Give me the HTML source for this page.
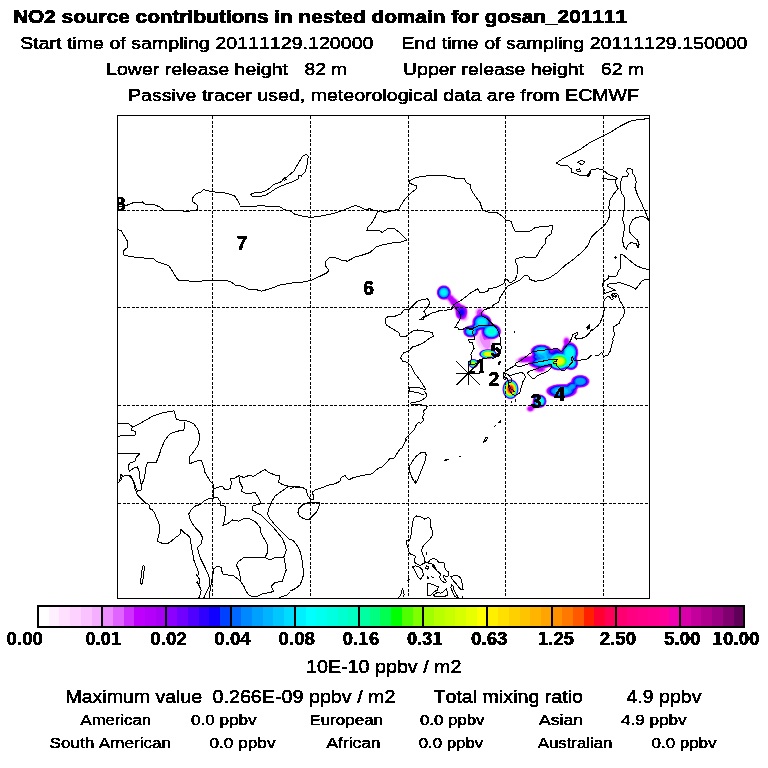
<!DOCTYPE html>
<html lang="en">
<head>
<meta charset="utf-8">
<title>NO2 source contributions in nested domain for gosan_201111</title>
<style>
html,body{margin:0;padding:0;background:#fff;}
body{width:768px;height:768px;overflow:hidden;}
svg{display:block;}
text{font-family:"Liberation Sans",Arial,Helvetica,sans-serif;font-kerning:none;font-variant-numeric:tabular-nums;fill:#000;stroke:#000;stroke-width:0.3px;stroke-linejoin:round;}
.b{stroke-width:0.6px;}
.b{font-weight:bold;}
.n{font-family:"Noto Sans CJK JP","Liberation Sans",sans-serif;}
</style>
</head>
<body>
<svg width="768" height="768" viewBox="0 0 768 768">
<defs>
<clipPath id="mapclip"><rect x="118" y="116" width="531" height="482"/></clipPath>
<clipPath id="c1"><rect x="470" y="350" width="20" height="19.9"/><rect x="479.5" y="369" width="4" height="5"/></clipPath>
<filter id="bl1" x="-50%" y="-50%" width="200%" height="200%"><feGaussianBlur stdDeviation="0.7"/></filter>
<filter id="thr" x="-2%" y="-20%" width="104%" height="140%" color-interpolation-filters="sRGB"><feComponentTransfer><feFuncA type="discrete" tableValues="0 0 1 1 1"/></feComponentTransfer></filter>
<filter id="bl2" x="-50%" y="-50%" width="200%" height="200%"><feGaussianBlur stdDeviation="2"/></filter>
</defs>
<rect width="768" height="768" fill="#fff"/>
<g clip-path="url(#mapclip)">
<g id="plume">
<g filter="url(#bl1)">
<path d="M442.0 284.9L445.5 284.9L448.7 286.5L450.6 289.0L451.8 293.5L454.0 294.9L455.6 297.0L458.0 299.0L459.9 301.5L462.0 303.4L465.3 305.0L467.0 306.7L468.3 310.0L468.3 314.5L468.9 317.5L468.4 319.5L467.0 321.1L465.5 321.7L463.5 321.8L459.5 320.4L457.0 319.0L455.1 316.0L454.3 311.0L452.0 307.5L449.5 305.0L448.0 302.5L446.0 300.4L442.5 300.2L440.4 299.5L437.6 297.0L436.2 293.5L436.6 290.0L438.5 286.9L440.0 285.7L442.0 284.9ZM478.0 306.9L481.0 306.7L483.6 308.0L485.1 310.0L485.7 313.5L489.3 316.0L491.1 318.0L492.0 320.0L492.5 323.0L496.0 324.1L498.5 325.5L500.4 327.5L501.5 329.9L501.6 332.5L500.5 335.4L499.1 337.0L495.6 339.5L494.8 340.5L495.2 346.0L494.1 349.5L494.2 350.0L496.8 352.5L497.2 353.5L497.1 355.0L495.3 357.0L492.0 358.4L489.0 358.9L485.5 358.7L482.5 358.0L480.0 356.5L478.9 355.0L478.8 353.5L480.6 350.5L476.5 344.4L474.5 338.0L469.5 337.9L466.5 337.0L464.0 335.1L462.8 333.0L462.8 330.0L464.4 327.5L467.0 325.8L471.0 324.9L471.5 324.5L472.0 319.5L474.8 315.0L474.4 312.5L474.8 310.5L476.0 308.4L478.0 306.9ZM565.5 335.8L567.5 335.8L569.3 337.0L570.5 338.9L571.1 341.0L576.0 344.4L577.5 346.6L578.5 349.2L578.8 354.0L577.6 358.5L578.6 362.0L578.5 364.5L577.2 367.5L574.5 369.8L571.0 370.6L566.5 369.5L562.0 370.8L558.0 371.0L553.7 370.0L549.0 367.6L547.6 368.0L547.2 370.5L545.0 372.4L541.5 373.3L538.0 373.3L535.2 372.5L533.5 371.5L532.6 370.0L532.5 368.0L528.7 366.0L527.0 363.9L518.7 363.5L516.0 362.5L515.0 361.5L514.8 360.5L515.5 359.0L518.4 357.0L523.5 355.3L530.6 354.5L529.8 351.0L530.5 348.5L533.2 346.0L536.9 344.5L540.5 344.0L544.5 344.2L548.5 345.5L552.0 348.1L557.0 347.7L561.0 348.9L562.6 345.0L562.0 341.5L562.4 339.0L563.7 337.0L565.5 335.8ZM472.0 358.9L474.0 358.8L476.0 359.5L477.2 360.5L478.1 362.0L478.4 364.0L477.9 365.5L476.7 367.0L475.0 368.0L473.0 368.2L471.0 367.7L469.4 366.5L468.5 365.0L468.2 363.0L469.0 361.0L470.5 359.5L472.0 358.9ZM579.5 374.5L584.0 374.9L587.5 376.6L589.0 378.0L589.9 379.5L590.1 382.5L588.7 385.0L586.5 386.7L583.5 387.8L578.5 388.5L578.1 389.5L578.2 391.5L577.7 393.0L576.3 394.5L574.5 395.7L571.5 397.0L567.3 398.0L562.5 398.4L558.0 398.3L553.5 397.5L550.4 396.5L547.5 395.0L545.5 392.9L544.9 391.0L545.3 389.5L546.3 388.0L548.5 386.4L551.7 385.0L556.0 384.0L560.5 383.6L566.5 383.7L570.1 381.5L571.2 378.5L573.2 376.5L576.4 375.0L579.5 374.5ZM510.0 378.9L513.2 379.5L516.0 381.5L518.1 385.0L518.8 389.0L518.2 393.0L516.5 396.3L514.0 398.5L510.5 399.5L507.5 398.8L504.7 396.5L503.0 393.5L502.2 389.5L502.8 385.5L504.5 382.1L507.0 379.9L510.0 378.9ZM537.0 394.5L539.5 394.0L541.5 394.3L543.5 395.1L545.1 396.5L546.4 398.5L546.9 400.5L546.8 402.5L546.1 404.5L544.5 406.5L542.5 407.8L540.5 408.3L537.5 408.4L536.0 409.0L534.0 411.4L532.5 412.3L530.0 412.7L527.5 412.0L526.3 411.0L525.5 409.5L525.5 408.1L526.0 407.0L527.0 405.9L530.0 404.2L532.0 401.9L532.6 399.0L533.6 397.0L535.2 395.5L537.0 394.5Z" fill="#FFE1FF" fill-rule="evenodd"/>
<path d="M442.5 285.0L446.0 285.2L449.0 287.0L450.6 289.5L451.5 293.6L453.5 295.0L455.5 297.4L458.0 299.5L459.4 301.5L461.6 303.5L465.0 305.2L466.8 307.0L468.0 310.0L467.9 314.5L468.3 317.5L467.8 319.5L466.5 320.8L465.0 321.3L463.5 321.2L459.2 320.0L457.4 319.0L455.4 316.0L454.7 311.0L452.0 307.0L449.9 305.0L448.5 302.5L446.0 300.1L443.0 300.1L440.5 299.3L438.6 298.0L437.5 296.6L436.4 293.0L436.9 289.5L439.2 286.5L442.5 285.0ZM478.0 307.5L481.0 307.2L483.5 308.5L484.7 310.5L485.3 313.5L489.0 316.0L491.0 318.3L491.9 320.5L492.2 323.0L496.0 324.3L498.2 325.5L500.0 327.2L501.2 329.5L501.4 332.5L500.2 335.5L498.2 337.5L493.5 340.5L493.9 346.0L492.9 349.5L496.3 352.0L497.1 354.0L496.7 355.5L495.8 356.5L492.0 358.4L489.0 358.8L485.5 358.7L482.5 357.9L480.2 356.5L479.1 355.0L479.0 353.2L479.6 352.0L481.8 350.0L479.1 346.5L477.5 343.4L476.4 340.5L475.8 337.5L470.5 337.8L467.5 337.2L464.6 335.5L463.0 333.0L463.0 330.0L464.6 327.5L467.0 325.9L471.0 325.1L471.7 324.5L472.2 319.5L475.2 315.0L474.9 312.5L475.3 310.5L476.5 308.5L478.0 307.5ZM565.0 336.5L567.0 336.2L569.0 337.2L570.0 338.6L571.0 341.5L574.0 343.0L575.5 344.2L577.2 346.5L578.2 349.0L578.7 353.5L577.4 358.5L578.4 362.0L578.3 364.5L577.0 367.5L574.5 369.6L571.0 370.5L566.5 369.4L562.0 370.7L558.0 370.8L554.0 369.9L549.0 367.5L547.0 368.0L546.7 370.5L545.0 372.0L541.9 373.0L538.1 373.0L536.0 372.5L534.2 371.5L533.1 370.0L533.1 368.0L529.2 366.0L527.1 363.5L519.5 363.3L517.1 362.5L515.8 361.5L515.5 360.5L516.0 359.3L519.2 357.0L524.2 355.5L531.0 354.7L531.1 354.0L530.1 351.5L530.5 349.0L532.8 346.5L536.5 344.8L540.5 344.1L544.5 344.4L549.0 346.0L552.0 348.4L557.0 347.9L561.0 349.2L562.9 345.0L562.4 342.0L562.6 339.5L563.5 337.8L565.0 336.5ZM472.5 358.9L474.5 359.0L476.0 359.6L477.5 360.9L478.2 362.5L478.2 364.5L477.5 366.0L476.0 367.4L474.5 368.0L472.5 368.1L470.8 367.5L469.1 366.0L468.4 364.5L468.4 362.5L469.1 361.0L470.5 359.6L472.5 358.9ZM577.5 374.9L582.0 374.7L586.5 376.2L588.3 377.5L589.4 379.0L590.0 380.5L590.0 382.0L588.8 384.5L586.4 386.5L583.5 387.6L578.5 388.3L577.9 389.5L577.5 392.6L576.5 394.0L574.4 395.5L570.9 397.0L567.0 397.9L563.0 398.3L558.5 398.2L554.2 397.5L550.9 396.5L548.0 395.0L545.9 393.0L545.3 391.5L545.6 389.5L546.7 388.0L548.8 386.5L552.3 385.0L557.0 384.0L566.5 383.9L570.4 381.5L571.2 379.0L572.8 377.0L575.0 375.7L577.5 374.9ZM508.5 379.4L512.0 379.2L515.0 380.7L517.5 383.9L518.6 387.5L518.5 391.5L517.0 395.4L514.5 398.1L511.5 399.3L508.5 399.0L505.5 397.2L503.5 394.5L502.4 391.0L502.4 387.5L503.5 383.9L505.7 381.0L508.5 379.4ZM537.5 394.5L539.5 394.2L541.5 394.4L543.5 395.3L545.0 396.5L546.3 398.5L546.8 400.5L546.7 402.5L546.0 404.5L544.5 406.3L542.5 407.6L540.5 408.2L537.0 408.2L535.5 408.9L533.9 411.0L532.5 412.0L530.0 412.4L528.0 412.0L526.0 410.0L525.8 408.5L526.1 407.5L527.4 406.0L530.2 404.5L532.2 402.0L532.8 399.0L533.8 397.0L535.5 395.4L537.5 394.5Z" fill="#FDD2FF" fill-rule="evenodd"/>
<path d="M441.5 285.4L445.0 285.2L447.0 285.8L448.5 286.8L450.5 289.6L451.5 294.2L453.5 295.5L455.0 297.5L457.0 299.0L459.0 301.6L461.5 303.8L465.0 305.6L466.5 307.0L467.5 309.1L467.8 311.5L467.6 318.0L466.5 320.0L465.0 320.6L463.5 320.6L459.5 319.8L457.5 318.6L456.5 317.5L455.5 315.5L454.8 310.5L452.5 307.0L450.4 305.0L448.6 302.0L446.5 299.9L441.5 299.6L439.5 298.5L438.0 297.0L436.6 293.5L437.0 290.0L438.9 287.0L441.5 285.4ZM478.5 307.9L481.0 307.8L483.0 308.9L484.1 310.5L484.7 313.5L488.7 316.0L490.6 318.0L491.5 320.0L492.0 323.2L495.5 324.2L498.0 325.6L499.9 327.5L501.1 330.0L501.1 333.0L499.6 336.0L497.0 338.1L492.4 340.0L492.2 340.5L492.4 346.0L492.1 347.5L491.2 349.0L495.5 351.4L496.5 352.5L497.0 354.0L496.5 355.5L495.7 356.5L492.0 358.3L488.5 358.8L484.5 358.4L481.5 357.3L479.5 355.5L479.0 354.0L479.4 352.5L481.0 350.9L483.5 349.5L479.8 344.5L478.0 340.5L477.4 336.5L477.0 336.1L472.5 337.5L468.5 337.4L466.5 336.6L464.9 335.5L463.7 334.0L463.1 332.5L463.2 330.0L464.9 327.5L467.3 326.0L471.0 325.3L471.9 324.5L472.5 319.5L475.7 315.0L475.5 312.5L475.9 310.5L477.0 308.9L478.5 307.9ZM479.5 331.0L479.3 331.5L479.5 332.0L480.3 331.0L479.5 331.0ZM565.5 336.8L567.0 336.7L568.7 337.5L569.7 339.0L570.6 341.5L573.6 343.0L575.5 344.5L577.0 346.5L578.0 349.0L578.5 353.5L577.2 358.5L578.2 362.0L578.1 364.5L576.8 367.5L574.3 369.5L572.5 370.1L570.5 370.3L566.5 369.2L562.0 370.5L558.0 370.6L554.0 369.8L550.0 367.5L549.0 367.3L546.3 368.0L546.0 370.5L544.1 372.0L541.0 372.8L538.0 372.6L535.9 372.0L534.4 371.0L533.8 370.0L533.8 368.0L529.6 366.0L527.5 363.1L520.2 363.0L517.5 362.1L516.5 361.0L516.4 360.0L517.0 359.0L520.2 357.0L524.5 355.8L531.2 355.0L531.6 354.5L530.3 351.5L530.8 349.0L533.2 346.5L537.0 344.8L540.5 344.3L544.5 344.6L548.6 346.0L552.0 348.7L555.0 348.1L557.0 348.1L561.0 349.6L563.3 345.0L562.7 341.5L563.1 339.5L564.0 337.8L565.5 336.8ZM472.5 359.0L474.5 359.1L476.0 359.7L477.4 361.0L478.1 362.5L478.1 364.5L477.5 365.9L476.5 367.0L474.5 367.9L472.5 368.0L470.9 367.5L469.5 366.4L468.5 364.5L468.5 362.5L469.2 361.0L470.5 359.7L472.5 359.0ZM578.0 375.0L582.7 375.0L586.7 376.5L589.2 379.0L589.7 380.5L589.7 382.0L588.6 384.5L586.0 386.5L583.0 387.5L578.5 388.0L577.6 389.5L577.5 391.5L576.9 393.0L574.0 395.5L570.5 396.9L567.0 397.7L562.5 398.1L558.0 397.9L553.5 397.1L550.2 396.0L547.7 394.5L546.0 392.5L545.7 391.0L546.0 389.5L547.1 388.0L549.2 386.5L553.0 385.0L557.0 384.2L561.0 383.9L566.5 384.1L570.7 381.5L571.4 379.0L573.2 377.0L575.5 375.7L578.0 375.0ZM508.5 379.5L512.0 379.4L515.0 380.9L517.4 384.0L518.5 387.5L518.4 391.5L517.0 395.2L514.5 397.9L511.5 399.1L508.5 398.9L505.5 397.1L503.5 394.2L502.5 391.0L502.5 387.5L503.6 384.0L505.5 381.3L508.5 379.5ZM538.5 394.4L540.5 394.4L542.5 394.9L544.2 396.0L545.5 397.5L546.7 401.0L546.4 403.0L545.5 405.0L544.0 406.6L542.0 407.7L540.0 408.1L537.0 408.0L535.5 408.5L533.4 411.0L532.0 411.8L530.0 412.1L527.9 411.5L526.3 409.5L526.5 407.5L527.5 406.4L530.3 405.0L532.3 402.5L532.9 399.0L534.5 396.5L536.5 395.0L538.5 394.4Z" fill="#FAC3FF" fill-rule="evenodd"/>
<path d="M442.0 285.5L445.5 285.5L448.5 287.1L450.4 290.0L451.1 294.5L453.0 295.7L454.9 298.0L457.0 299.6L458.8 302.0L461.5 304.4L465.0 306.0L466.4 307.5L467.4 310.0L467.5 312.5L466.8 318.0L465.6 319.5L464.0 319.9L461.5 319.8L459.5 319.4L457.9 318.5L456.5 317.0L455.8 315.5L455.3 310.5L452.6 306.5L450.6 304.5L449.0 301.7L447.0 299.7L443.5 299.7L441.5 299.4L439.5 298.3L438.0 296.7L436.8 293.5L437.2 290.0L439.0 287.2L442.0 285.5ZM479.5 308.4L481.0 308.5L482.5 309.4L483.6 311.0L484.0 313.5L488.0 315.8L489.9 317.5L491.2 320.0L491.8 323.5L495.5 324.4L497.6 325.5L499.7 327.5L500.9 330.0L500.7 333.5L498.8 336.5L496.0 338.4L490.5 340.0L490.1 340.5L490.4 346.0L489.5 347.7L487.8 348.5L488.3 349.0L490.5 349.2L494.5 350.8L496.4 352.5L496.8 354.0L496.4 355.5L495.5 356.5L493.9 357.5L491.5 358.3L487.5 358.7L484.0 358.2L481.2 357.0L479.4 355.0L479.3 353.0L481.0 351.1L483.5 349.7L487.0 349.0L486.9 348.5L484.5 347.5L483.5 346.4L481.0 342.5L479.8 339.5L479.5 336.5L480.8 333.5L481.0 330.5L480.0 330.4L478.8 331.0L478.4 333.5L476.5 335.7L474.5 336.8L472.0 337.4L469.0 337.3L466.5 336.4L464.5 334.9L463.3 332.5L463.4 330.0L465.1 327.5L467.8 326.0L471.5 325.3L472.2 324.5L472.7 319.5L473.9 317.5L476.3 315.0L476.1 312.5L476.5 310.8L478.0 309.0L479.5 308.4ZM565.5 337.4L567.0 337.3L568.0 337.7L569.2 339.0L570.5 342.0L573.0 343.0L575.1 344.5L577.0 347.0L578.0 349.5L578.2 354.0L576.9 358.5L578.0 361.7L578.0 364.5L576.5 367.5L574.0 369.5L570.5 370.1L566.5 369.0L562.0 370.3L558.0 370.5L554.0 369.6L550.0 367.2L549.0 367.1L545.5 368.0L545.5 370.0L544.0 371.5L541.5 372.3L538.5 372.3L535.3 371.0L534.5 370.0L534.5 368.0L529.5 365.5L528.0 362.7L521.0 362.7L518.7 362.0L517.5 361.0L517.4 360.0L517.9 359.0L521.0 357.1L525.0 356.1L530.5 355.7L531.5 355.2L532.0 354.5L530.9 352.5L530.6 351.0L531.1 349.0L533.5 346.5L537.1 345.0L541.0 344.5L545.0 344.9L549.0 346.5L552.0 349.0L554.5 348.4L557.0 348.3L559.0 348.8L561.0 349.9L561.5 349.7L563.6 345.0L563.2 341.5L563.5 339.7L564.5 338.1L565.5 337.4ZM471.5 359.3L473.5 359.0L475.0 359.3L476.5 360.1L477.6 361.5L478.1 363.0L477.9 365.0L476.9 366.5L475.5 367.5L473.5 368.0L472.0 367.8L470.3 367.0L469.0 365.5L468.5 364.0L468.7 362.0L469.7 360.5L471.5 359.3ZM579.5 375.0L584.0 375.5L587.1 377.0L589.1 379.5L589.5 381.0L589.4 382.5L588.0 384.8L585.6 386.5L582.5 387.5L578.5 387.7L577.3 389.5L577.1 391.5L576.5 393.0L573.5 395.5L570.0 396.8L566.5 397.6L562.0 397.9L558.0 397.8L553.7 397.0L550.8 396.0L548.2 394.5L546.4 392.5L546.0 391.0L546.4 389.5L547.6 388.0L549.7 386.5L553.5 385.1L557.0 384.4L561.5 384.1L566.5 384.3L571.0 381.5L571.7 379.0L573.5 377.0L576.5 375.5L579.5 375.0ZM509.0 379.5L512.0 379.5L515.0 381.0L517.3 384.0L518.4 387.5L518.3 391.5L517.0 395.0L514.5 397.7L511.5 399.0L508.5 398.8L505.6 397.0L503.5 394.0L502.6 390.5L502.7 387.0L504.0 383.5L506.1 381.0L509.0 379.5ZM539.5 394.5L543.0 395.4L544.5 396.5L545.7 398.0L546.5 401.5L546.1 403.5L545.3 405.0L543.8 406.5L542.0 407.5L540.0 407.9L536.5 407.8L535.0 408.3L533.3 410.5L531.8 411.5L529.5 411.7L527.9 411.0L526.8 409.5L526.8 408.0L528.0 406.5L530.5 405.4L532.3 403.0L532.9 399.5L533.8 397.5L536.0 395.5L539.5 394.5Z" fill="#EC8CFF" fill-rule="evenodd"/>
<path d="M443.0 285.5L446.0 285.8L448.5 287.4L450.4 290.5L451.0 295.2L452.5 296.1L454.1 298.0L456.5 299.9L458.1 302.0L461.0 304.5L464.5 306.1L466.0 307.5L467.0 309.7L467.2 312.5L466.3 316.5L465.0 318.5L463.5 319.2L461.5 319.3L459.5 319.0L458.0 318.1L456.9 317.0L456.0 315.0L455.5 310.0L453.0 306.1L451.0 304.1L449.5 301.4L447.5 299.3L444.0 299.5L442.0 299.3L440.0 298.4L438.1 296.5L436.9 293.0L437.6 289.5L439.5 287.0L441.1 286.0L443.0 285.5ZM479.5 309.4L481.0 309.6L482.0 310.2L482.8 311.5L483.1 313.5L483.7 314.0L487.1 315.5L489.6 317.5L491.0 320.0L491.3 323.5L496.5 325.1L498.5 326.5L499.8 328.0L500.7 330.5L500.6 333.0L499.4 335.5L497.2 337.5L493.0 339.1L485.5 339.5L485.5 340.1L484.5 340.1L483.3 338.5L482.2 335.5L481.6 333.0L481.6 330.5L481.0 330.0L479.5 330.3L478.4 331.0L477.9 333.5L476.5 335.3L473.0 337.1L470.5 337.3L468.0 336.9L465.5 335.5L464.1 334.0L463.4 331.5L464.1 329.0L465.4 327.5L467.0 326.5L471.0 325.6L472.0 325.0L472.6 324.0L472.5 321.5L473.2 319.0L477.2 314.5L477.1 312.5L477.5 310.9L478.3 310.0L479.5 309.4ZM566.0 338.0L567.5 338.2L568.5 339.0L569.7 342.0L573.0 343.3L575.0 344.7L576.5 346.6L577.7 349.5L578.0 354.0L576.7 358.5L577.9 362.0L577.8 364.5L576.5 367.2L574.0 369.3L570.5 369.9L566.5 368.7L562.0 370.1L558.0 370.3L554.4 369.5L550.0 367.0L549.0 366.9L544.6 368.0L544.5 370.0L543.0 371.3L541.0 371.8L538.5 371.8L535.8 370.5L535.4 369.5L535.5 368.0L530.0 365.5L529.2 364.5L529.0 362.5L528.5 362.0L521.5 362.2L519.4 361.5L518.5 360.5L519.1 359.0L521.5 357.5L525.1 356.5L530.5 356.2L531.5 355.6L532.3 354.5L530.9 351.5L531.4 349.0L534.0 346.5L537.5 345.1L541.0 344.7L544.6 345.0L548.6 346.5L551.5 349.3L555.0 348.5L557.0 348.5L558.9 349.0L561.0 350.4L561.5 350.3L564.2 344.5L563.8 341.5L564.0 340.0L565.0 338.5L566.0 338.0ZM485.5 349.5L489.5 349.3L493.5 350.4L496.2 352.5L496.6 353.5L496.5 355.0L494.5 357.1L490.5 358.4L486.0 358.5L482.3 357.5L479.8 355.5L479.4 354.5L479.5 353.0L481.5 350.9L485.5 349.5ZM471.5 359.4L473.5 359.1L475.0 359.4L476.5 360.2L477.5 361.5L478.0 363.0L477.8 365.0L476.8 366.5L475.5 367.4L473.5 367.9L471.5 367.6L470.0 366.7L469.0 365.4L468.5 363.5L468.8 362.0L469.8 360.5L471.5 359.4ZM577.5 375.5L582.0 375.3L585.9 376.5L588.6 379.0L589.2 380.5L589.2 382.0L588.0 384.4L586.0 386.0L583.0 387.1L578.5 387.5L578.0 387.8L576.8 390.0L576.7 391.5L576.1 393.0L573.5 395.2L570.4 396.5L566.5 397.4L562.5 397.7L558.0 397.6L554.0 396.8L550.5 395.6L548.0 394.0L546.8 392.5L546.5 391.0L546.8 389.5L548.0 388.0L549.5 386.9L552.8 385.5L557.0 384.6L567.0 384.3L568.6 383.0L571.0 381.9L572.0 379.0L573.3 377.5L575.0 376.4L577.5 375.5ZM510.0 379.5L513.0 380.0L515.8 382.0L517.6 385.0L518.4 389.0L517.9 392.5L516.1 396.0L513.5 398.2L510.5 398.9L507.5 398.2L505.0 396.2L503.3 393.0L502.6 389.5L503.1 386.0L504.8 382.5L507.0 380.5L510.0 379.5ZM537.5 395.0L539.5 394.6L541.5 394.9L543.5 395.9L544.8 397.0L545.7 398.5L546.3 400.5L546.2 402.5L545.5 404.4L544.0 406.2L542.0 407.3L540.0 407.7L535.5 407.6L534.0 408.3L533.0 410.0L531.7 411.0L530.0 411.2L528.5 410.8L527.4 409.5L527.5 407.9L528.5 406.8L531.3 405.5L532.7 403.0L533.0 400.0L533.7 398.0L535.5 396.0L537.5 395.0Z" fill="#D030FF" fill-rule="evenodd"/>
<path d="M442.0 285.9L445.5 285.9L448.3 287.5L449.5 289.0L450.3 291.0L450.5 296.0L452.0 296.8L453.5 298.6L456.0 300.3L457.6 302.5L460.7 305.0L464.3 306.5L465.8 308.0L466.8 310.5L466.7 313.5L465.7 316.5L464.0 318.2L462.5 318.8L460.5 318.8L458.5 318.0L457.4 317.0L456.3 314.5L456.0 309.8L453.5 305.7L451.5 303.6L450.2 301.0L448.5 299.0L447.5 298.6L444.5 299.3L442.0 299.1L440.0 298.1L438.4 296.5L437.2 293.5L437.5 290.3L439.3 287.5L442.0 285.9ZM480.0 312.3L481.1 313.5L486.5 315.5L489.0 317.3L490.7 320.0L491.0 323.6L496.5 325.3L499.5 328.0L500.4 330.0L500.5 332.5L499.5 335.0L497.5 337.0L495.0 338.4L492.5 339.0L489.0 338.9L486.5 338.3L484.5 337.1L482.7 335.0L482.0 333.0L481.8 330.0L481.0 329.7L478.5 330.5L476.9 334.5L475.2 336.0L473.0 336.9L470.5 337.1L468.0 336.7L466.0 335.7L464.5 334.2L463.6 331.5L464.5 328.8L465.8 327.5L467.5 326.5L472.0 325.4L472.9 324.0L472.9 321.0L473.8 318.5L475.5 316.6L478.9 314.0L480.0 312.3ZM565.5 339.4L566.5 339.0L567.5 339.4L568.7 342.0L572.5 343.3L574.5 344.6L576.5 347.0L577.5 349.5L577.8 354.0L576.5 358.5L577.6 361.5L577.7 364.0L576.4 367.0L574.0 369.0L570.5 369.7L566.5 368.5L562.0 370.0L558.0 370.1L554.0 369.2L549.5 366.7L543.2 368.0L542.8 368.5L543.2 369.5L542.5 370.5L541.0 371.1L539.0 371.1L537.0 370.0L537.2 368.5L536.9 368.0L532.3 366.5L530.1 365.0L529.5 364.0L529.9 361.5L529.5 361.1L523.5 361.7L521.5 361.4L520.1 360.5L520.0 360.0L520.5 359.0L523.0 357.6L526.0 357.0L530.0 356.9L531.0 356.5L532.7 354.5L531.3 351.5L531.8 349.0L534.5 346.5L538.0 345.2L541.5 344.9L545.0 345.3L548.9 347.0L551.5 349.8L554.5 348.8L557.0 348.8L559.3 349.5L561.5 351.1L562.9 347.5L564.9 344.0L564.6 341.0L565.5 339.4ZM486.5 349.5L491.0 349.7L494.4 351.0L496.3 353.0L496.5 354.4L496.1 355.5L493.4 357.5L489.0 358.5L484.0 358.0L480.9 356.5L479.5 354.5L479.7 353.0L480.3 352.0L483.0 350.3L486.5 349.5ZM472.0 359.4L474.0 359.2L475.5 359.7L476.7 360.5L477.7 362.0L478.0 363.5L477.5 365.4L476.5 366.6L475.0 367.5L473.0 367.8L471.5 367.5L469.9 366.5L468.9 365.0L468.7 363.0L469.2 361.5L470.5 360.0L472.0 359.4ZM578.5 375.5L582.5 375.6L586.3 377.0L588.5 379.5L588.9 381.0L588.8 382.5L587.5 384.6L585.0 386.3L582.5 387.0L578.0 387.4L576.4 390.0L575.6 393.0L573.2 395.0L570.5 396.2L567.0 397.1L563.0 397.5L558.5 397.4L554.5 396.7L551.0 395.5L548.5 394.0L547.3 392.5L546.9 391.0L547.3 389.5L548.5 388.0L550.0 387.0L553.5 385.5L557.0 384.8L567.0 384.6L569.0 383.0L571.3 382.0L572.1 379.5L573.7 377.5L576.0 376.2L578.5 375.5ZM508.5 379.9L511.5 379.7L514.5 381.0L517.0 384.0L518.1 387.5L518.0 391.5L516.7 395.0L514.5 397.4L511.5 398.7L508.5 398.5L506.0 397.0L504.0 394.4L502.9 391.0L502.9 387.5L504.0 384.0L506.0 381.4L508.5 379.9ZM538.0 395.0L540.0 394.8L542.0 395.3L543.5 396.1L545.0 397.5L545.8 399.0L546.2 401.0L546.0 402.6L545.2 404.5L543.9 406.0L542.0 407.1L539.5 407.6L536.0 407.0L534.0 407.2L533.0 407.7L532.3 409.5L531.5 410.2L530.0 410.5L529.0 410.2L528.2 409.0L528.4 408.0L529.0 407.4L532.0 406.3L533.0 403.8L533.1 400.5L533.9 398.0L535.8 396.0L538.0 395.0Z" fill="#C000FF" fill-rule="evenodd"/>
<path d="M443.0 285.9L445.5 286.1L447.5 287.1L449.3 289.0L450.2 291.5L450.0 294.5L449.1 297.0L447.5 298.1L444.5 299.1L442.0 298.8L440.0 297.8L438.3 296.0L437.4 293.5L437.5 291.0L438.7 288.5L440.5 286.8L443.0 285.9ZM452.5 299.9L455.0 300.9L456.8 303.0L460.2 305.5L464.0 306.9L465.6 308.5L466.4 311.0L466.3 313.5L465.3 316.0L463.5 317.8L462.0 318.3L460.0 318.2L458.5 317.4L457.5 316.3L456.6 314.0L456.6 309.5L454.2 305.0L452.2 302.5L451.9 300.5L452.5 299.9ZM480.5 314.4L484.0 314.8L487.7 316.5L489.3 318.0L490.2 319.5L490.8 324.0L495.5 325.1L497.5 326.2L499.0 327.7L500.1 330.0L500.2 332.5L499.2 335.0L497.5 336.8L495.0 338.1L492.0 338.8L489.0 338.6L486.5 337.8L484.5 336.5L483.2 335.0L482.3 332.5L482.3 330.0L481.5 329.4L480.0 329.6L478.1 330.5L477.5 333.0L476.6 334.5L473.5 336.5L471.0 336.9L468.5 336.6L466.5 335.7L465.0 334.5L464.2 333.0L463.9 331.5L464.2 330.0L465.0 328.5L467.5 326.7L472.0 325.7L473.2 324.0L473.3 320.5L474.5 318.0L477.0 315.8L480.5 314.4ZM567.0 342.8L571.0 343.1L573.5 344.1L575.9 346.5L577.3 349.5L577.6 354.0L576.2 358.5L577.4 361.5L577.5 364.0L576.5 366.5L574.5 368.5L573.0 369.2L571.0 369.5L566.5 368.3L562.0 369.8L558.0 369.9L554.0 369.0L550.0 366.5L541.5 367.9L538.5 367.8L533.0 366.5L531.2 365.5L530.2 364.5L530.2 362.5L532.1 360.0L530.6 358.5L530.7 358.0L533.1 354.5L531.7 352.0L531.7 350.0L532.5 348.5L534.5 346.8L539.0 345.3L544.5 345.4L548.5 347.0L551.5 350.4L554.5 349.1L557.0 349.0L559.5 350.0L561.5 352.0L563.5 346.8L565.5 344.1L567.0 342.8ZM484.5 349.9L489.0 349.5L493.0 350.4L495.0 351.5L495.9 352.5L496.3 353.5L496.2 355.0L494.2 357.0L491.0 358.2L487.0 358.4L482.8 357.5L480.1 355.5L479.7 353.5L481.0 351.5L484.5 349.9ZM526.0 358.0L528.5 358.1L529.4 358.5L529.5 359.0L528.4 360.0L526.5 360.6L524.0 360.6L522.6 360.0L523.0 359.0L526.0 358.0ZM472.0 359.4L474.0 359.3L475.5 359.8L476.5 360.5L477.6 362.0L477.9 363.5L477.5 365.2L476.5 366.5L475.0 367.4L473.0 367.7L471.5 367.4L470.0 366.4L469.0 365.0L468.8 363.0L469.3 361.5L470.5 360.2L472.0 359.4ZM577.5 375.9L582.0 375.7L585.8 377.0L587.1 378.0L588.2 379.5L588.5 382.3L587.2 384.5L585.0 386.0L582.0 386.9L578.0 387.1L576.0 390.0L575.1 393.0L572.6 395.0L570.0 396.1L566.3 397.0L558.5 397.2L554.5 396.5L551.6 395.5L549.1 394.0L547.8 392.5L547.4 391.0L547.8 389.5L549.0 388.1L550.6 387.0L554.0 385.6L557.5 384.9L567.0 384.8L569.0 383.2L571.8 382.0L572.4 379.5L574.0 377.6L577.5 375.9ZM509.0 379.9L512.0 379.9L514.9 381.5L517.0 384.2L518.0 387.5L517.9 391.5L516.5 395.0L514.2 397.5L511.5 398.6L508.5 398.3L506.0 396.8L504.0 394.2L503.0 391.0L503.0 387.5L504.1 384.0L506.1 381.5L509.0 379.9ZM539.5 395.0L542.0 395.4L544.0 396.7L545.5 398.8L546.0 401.0L545.5 403.5L544.2 405.5L542.0 407.0L539.5 407.4L537.1 407.0L534.5 405.9L533.6 404.5L533.2 401.5L533.6 399.0L534.9 397.0L537.0 395.5L539.5 395.0Z" fill="#B400FA" fill-rule="evenodd"/>
<path d="M442.0 286.4L444.5 286.2L446.5 286.8L448.5 288.4L449.7 290.5L450.0 293.0L449.4 295.5L448.0 297.4L445.9 298.5L443.5 298.8L441.0 298.2L439.0 296.5L437.9 294.5L437.6 292.0L438.3 289.5L440.0 287.5L442.0 286.4ZM457.0 305.4L459.9 306.5L463.5 307.2L464.6 308.0L465.5 309.3L466.0 311.5L465.7 314.0L464.7 316.0L463.0 317.4L461.5 317.8L459.8 317.5L458.5 316.7L457.5 315.3L457.0 313.0L457.4 309.0L456.5 306.0L457.0 305.4ZM480.0 315.0L483.5 315.0L487.2 316.5L488.9 318.0L489.8 319.5L490.3 321.0L490.5 324.2L495.5 325.3L498.5 327.5L499.7 329.5L500.0 332.0L499.2 334.5L497.5 336.5L495.0 337.9L492.5 338.5L489.5 338.4L487.0 337.7L485.0 336.5L483.5 334.9L482.6 332.5L482.6 329.5L481.5 329.1L480.0 329.3L477.7 330.5L476.7 334.0L475.1 335.5L473.5 336.3L471.5 336.7L469.0 336.5L467.0 335.8L465.4 334.5L464.2 332.0L464.3 330.5L465.0 328.9L467.5 327.0L472.0 326.0L473.5 324.0L473.5 321.0L474.5 318.5L477.0 316.2L480.0 315.0ZM567.5 343.5L570.5 343.3L573.5 344.5L575.6 346.5L577.0 349.5L577.3 354.0L575.9 358.5L577.1 361.5L577.2 364.0L576.3 366.5L574.1 368.5L572.5 369.1L570.5 369.3L566.5 368.1L562.4 369.5L558.0 369.7L554.0 368.7L550.0 366.3L543.0 367.3L538.5 367.4L533.5 366.3L531.8 365.5L530.8 364.5L530.5 363.5L530.7 362.5L533.0 360.0L531.9 358.5L531.7 357.5L533.5 354.5L532.3 352.5L532.0 350.5L532.9 348.5L534.6 347.0L539.0 345.5L544.0 345.5L546.5 346.3L548.7 347.5L550.0 349.0L551.0 351.1L551.5 351.2L554.3 349.5L557.0 349.4L559.0 350.1L561.5 352.5L562.0 352.2L562.8 349.0L564.0 346.5L566.0 344.3L567.5 343.5ZM485.0 349.9L489.5 349.7L493.5 350.7L495.7 352.5L496.2 353.5L496.0 355.0L494.0 357.0L490.5 358.2L486.5 358.3L482.5 357.2L480.3 355.5L479.8 354.5L480.0 353.0L482.0 351.0L485.0 349.9ZM472.5 359.4L474.0 359.4L475.7 360.0L476.9 361.0L477.6 362.5L477.7 364.0L477.2 365.5L476.0 366.8L474.5 367.5L472.5 367.6L471.0 367.0L469.7 366.0L469.0 364.5L468.9 363.0L469.5 361.3L470.9 360.0L472.5 359.4ZM578.5 376.0L582.5 376.0L586.0 377.5L588.0 379.9L588.1 382.5L586.8 384.5L584.4 386.0L582.0 386.6L578.5 386.7L577.6 387.0L575.6 390.0L574.5 393.0L572.0 395.0L569.5 396.0L565.5 396.9L558.5 397.0L552.3 395.5L549.7 394.0L548.3 392.5L547.9 391.0L548.3 389.5L549.7 388.0L551.3 387.0L554.5 385.8L558.5 385.0L567.0 385.1L569.0 383.5L572.0 382.3L572.8 379.5L574.5 377.6L576.5 376.5L578.5 376.0ZM509.5 380.0L512.5 380.2L515.3 382.0L517.2 385.0L518.0 388.4L517.5 392.5L516.0 395.5L513.9 397.5L511.0 398.5L508.0 398.0L505.5 396.2L503.8 393.5L503.0 390.0L503.3 386.5L504.5 383.5L506.9 381.0L509.5 380.0ZM538.0 395.4L540.5 395.2L542.7 396.0L544.5 397.5L545.5 399.5L545.7 402.0L545.1 404.0L543.5 405.9L541.5 406.9L539.0 407.2L536.4 406.5L534.9 405.5L533.7 403.5L533.4 401.0L534.1 398.5L535.7 396.5L538.0 395.4Z" fill="#8C00FF" fill-rule="evenodd"/>
<path d="M443.5 286.5L446.0 286.9L447.7 288.0L449.0 289.7L449.6 292.0L449.3 294.5L448.3 296.5L446.2 298.0L444.0 298.5L442.0 298.2L439.9 297.0L438.5 295.1L438.0 293.0L438.3 290.5L439.4 288.5L441.4 287.0L443.5 286.5ZM460.5 307.9L462.5 307.9L463.8 308.5L464.9 310.0L465.2 311.5L465.0 313.5L464.3 315.0L463.0 316.3L461.5 316.8L460.0 316.6L459.0 315.9L457.8 313.5L457.9 311.5L458.5 309.6L459.2 308.5L460.5 307.9ZM480.0 315.4L483.5 315.4L487.0 316.8L488.5 318.2L489.6 320.0L489.9 322.0L489.7 324.5L495.0 325.5L498.0 327.5L499.3 329.5L499.6 332.0L499.0 334.1L497.5 336.0L495.1 337.5L492.5 338.2L489.5 338.1L487.0 337.3L485.0 336.0L483.8 334.5L482.9 332.0L483.1 329.0L482.0 328.7L480.5 328.8L477.5 330.1L476.2 334.0L475.0 335.2L473.3 336.0L471.0 336.4L469.0 336.2L467.0 335.4L465.5 334.1L464.5 331.5L465.4 329.0L468.0 327.1L472.5 326.1L474.0 324.0L474.0 321.0L475.0 318.6L477.3 316.5L480.0 315.4ZM568.0 343.9L571.0 343.9L573.5 345.0L575.5 347.1L576.7 350.0L577.0 354.0L575.5 358.5L576.8 361.5L576.9 364.0L575.9 366.5L574.0 368.2L572.5 368.8L570.5 369.0L566.5 367.7L562.5 369.2L558.0 369.5L554.0 368.5L550.0 365.9L543.5 367.0L539.0 367.1L534.0 366.1L531.6 364.5L531.3 363.5L531.5 362.5L533.9 360.0L534.0 359.5L532.9 358.5L532.5 357.5L534.2 354.5L532.9 352.5L532.5 350.5L533.5 348.5L535.4 347.0L539.5 345.8L544.5 346.0L547.0 346.9L548.6 348.0L549.7 349.5L550.4 352.0L551.0 352.4L552.0 352.1L553.5 350.5L556.0 349.8L558.5 350.5L560.3 352.5L562.0 352.9L562.4 352.5L563.0 349.4L564.2 347.0L566.0 345.0L568.0 343.9ZM485.5 349.9L490.0 349.9L493.5 350.9L495.1 352.0L495.8 353.0L495.8 355.0L493.7 357.0L490.5 358.0L486.0 358.1L482.5 357.1L480.9 356.0L480.2 355.0L480.2 353.0L482.3 351.0L485.5 349.9ZM473.0 359.5L474.5 359.7L476.2 360.5L477.3 362.0L477.6 363.5L477.3 365.0L476.5 366.2L475.0 367.2L473.5 367.5L472.0 367.3L470.4 366.5L469.3 365.0L469.0 363.5L469.3 362.0L470.0 360.9L471.2 360.0L473.0 359.5ZM578.0 376.5L582.0 376.3L585.3 377.5L586.5 378.5L587.5 380.0L587.5 382.5L586.1 384.5L584.0 385.7L581.5 386.3L577.5 386.4L574.9 390.0L574.0 392.6L571.8 394.5L569.5 395.6L566.0 396.4L559.0 396.6L555.2 396.0L552.5 395.1L550.6 394.0L549.1 392.5L548.8 391.5L548.9 390.0L550.0 388.5L551.4 387.5L554.5 386.2L558.0 385.5L567.2 385.5L569.7 383.5L572.7 382.5L573.1 380.0L574.0 378.6L575.5 377.4L578.0 376.5ZM508.5 380.4L511.5 380.2L514.5 381.5L516.6 384.0L517.7 387.5L517.7 391.0L516.5 394.5L514.3 397.0L511.5 398.2L508.5 398.0L506.1 396.5L504.2 394.0L503.3 391.0L503.3 387.5L504.2 384.5L506.0 382.0L508.5 380.4ZM539.0 395.5L541.0 395.6L543.0 396.5L544.5 398.0L545.5 400.5L545.2 403.0L544.1 405.0L542.0 406.5L540.0 407.0L537.5 406.6L535.5 405.5L534.3 404.0L533.7 402.0L533.9 399.5L535.0 397.6L537.0 396.0L539.0 395.5Z" fill="#5000FF" fill-rule="evenodd"/>
<path d="M443.0 286.9L445.0 287.0L447.0 287.9L448.4 289.5L449.2 291.5L449.1 294.0L448.1 296.0L446.5 297.4L444.5 298.1L442.5 298.0L440.5 297.0L439.2 295.5L438.4 293.5L438.5 291.0L439.5 289.0L441.0 287.7L443.0 286.9ZM461.0 309.4L463.0 309.8L463.6 310.5L464.0 312.0L463.4 314.0L462.5 314.9L461.5 315.3L460.0 314.8L459.0 313.0L459.5 310.7L461.0 309.4ZM480.0 315.9L483.5 315.9L486.5 317.0L488.1 318.5L489.2 320.5L489.4 322.0L489.0 325.0L494.0 325.5L496.2 326.5L498.0 328.0L499.0 330.0L499.2 332.0L498.6 334.0L497.0 336.0L494.5 337.3L492.0 337.9L489.5 337.7L487.0 336.9L485.1 335.5L484.0 334.0L483.3 331.5L483.8 328.5L483.0 328.3L480.5 328.3L476.8 330.0L476.0 333.6L474.6 335.0L473.0 335.7L471.0 336.1L469.0 335.8L467.0 335.0L465.9 334.0L465.0 331.5L465.9 329.0L468.0 327.5L472.8 326.5L474.5 324.0L474.5 321.0L475.3 319.0L477.4 317.0L480.0 315.9ZM568.0 344.5L571.0 344.4L573.5 345.5L575.5 347.9L576.5 350.5L576.5 354.3L575.0 358.5L576.5 361.5L576.6 364.0L575.5 366.4L573.6 368.0L570.5 368.6L566.5 367.3L562.2 369.0L558.0 369.2L554.0 368.1L550.0 365.6L543.5 366.6L538.5 366.6L534.0 365.5L532.2 364.0L532.1 363.0L532.6 362.0L535.3 359.5L534.0 358.5L533.4 357.5L533.6 356.5L534.9 354.5L533.5 352.5L533.1 351.0L533.8 349.0L535.5 347.5L539.5 346.1L544.0 346.3L546.5 347.1L548.4 348.5L549.3 350.0L549.8 352.5L551.0 353.3L552.9 353.5L553.9 351.5L556.0 350.7L557.5 351.0L559.5 352.7L562.0 353.3L562.7 353.0L563.4 349.5L564.5 347.2L566.0 345.6L568.0 344.5ZM486.0 350.0L490.0 350.0L493.4 351.0L495.6 353.0L495.6 355.0L493.4 357.0L490.0 358.0L486.0 358.0L482.6 357.0L480.4 355.0L480.4 353.0L482.6 351.0L486.0 350.0ZM471.5 360.0L473.0 359.6L474.5 359.8L476.0 360.5L477.0 361.7L477.5 363.0L477.4 364.5L476.5 366.0L475.5 366.8L474.0 367.3L472.5 367.3L471.0 366.7L469.7 365.5L469.1 364.0L469.2 362.5L470.1 361.0L471.5 360.0ZM578.0 376.9L581.5 376.7L585.0 377.9L586.8 380.0L586.9 382.5L585.5 384.3L583.2 385.5L580.5 386.0L577.0 385.8L576.0 388.1L574.0 390.0L573.1 392.5L570.7 394.5L565.5 396.1L559.0 396.2L553.5 394.9L551.0 393.5L550.0 392.3L549.6 391.0L550.1 389.5L551.7 388.0L553.6 387.0L557.0 386.1L560.0 385.7L567.0 386.1L570.0 383.8L573.2 383.0L573.6 382.5L573.6 380.5L574.4 379.0L576.0 377.7L578.0 376.9ZM509.0 380.5L512.0 380.5L514.5 381.8L516.5 384.3L517.6 387.5L517.6 391.0L516.3 394.5L514.0 397.0L511.5 398.0L509.0 397.9L506.4 396.5L504.5 394.1L503.4 391.0L503.4 387.5L504.5 384.3L506.5 381.8L509.0 380.5ZM538.0 395.9L540.5 395.8L542.5 396.5L544.0 397.8L545.0 399.7L545.2 402.0L544.5 403.9L543.0 405.6L541.0 406.5L539.0 406.6L536.8 406.0L535.0 404.5L534.3 403.0L534.0 401.0L534.5 398.9L536.0 397.0L538.0 395.9Z" fill="#1000FF" fill-rule="evenodd"/>
<path d="M443.0 287.4L445.0 287.5L446.5 288.1L448.0 289.7L448.7 291.5L448.7 293.5L447.9 295.5L446.5 296.9L444.5 297.6L442.5 297.5L441.0 296.8L439.5 295.2L438.9 293.5L438.9 291.5L439.7 289.5L441.3 288.0L443.0 287.4ZM480.0 316.4L484.0 316.5L486.0 317.3L487.5 318.6L488.4 320.0L488.8 321.5L488.0 325.6L493.5 325.8L495.5 326.5L497.4 328.0L498.6 330.0L498.8 332.0L498.1 334.0L496.9 335.5L494.5 336.9L492.0 337.5L489.0 337.2L486.5 336.1L484.8 334.5L483.9 332.5L483.9 330.5L484.8 328.0L484.5 327.6L480.5 327.8L476.4 329.5L476.0 330.0L476.1 332.0L475.5 333.5L473.0 335.3L469.5 335.6L467.9 335.0L466.5 334.0L465.5 332.0L466.1 329.5L468.5 327.7L473.2 327.0L475.1 324.5L475.0 321.5L475.6 319.5L477.5 317.5L480.0 316.4ZM568.5 344.9L571.0 344.9L573.3 346.0L575.0 347.9L576.0 350.5L576.0 354.5L574.5 358.5L576.0 361.5L576.2 364.0L575.3 366.0L573.5 367.6L570.5 368.2L567.0 366.9L562.5 368.6L558.5 369.0L554.4 368.0L550.0 365.1L544.0 366.2L539.5 366.3L535.4 365.5L533.3 364.0L533.1 363.0L533.6 362.0L537.4 359.0L534.8 357.5L534.9 356.5L535.9 355.0L534.2 352.5L533.8 351.0L534.6 349.0L536.5 347.5L541.0 346.4L543.5 346.6L546.0 347.4L548.4 349.5L549.2 353.0L552.5 354.8L557.0 353.1L563.0 353.6L563.7 350.0L564.6 348.0L566.3 346.0L568.5 344.9ZM487.5 350.0L491.0 350.3L494.0 351.6L495.5 353.5L495.0 355.5L492.5 357.2L488.5 358.0L484.3 357.5L481.5 356.0L480.5 354.0L481.5 352.0L484.0 350.6L487.5 350.0ZM472.0 360.0L473.5 359.8L475.0 360.1L477.0 362.0L477.3 363.5L477.0 365.0L475.0 366.9L473.5 367.2L471.9 367.0L470.5 366.2L469.6 365.0L469.3 363.5L469.6 362.0L470.5 360.8L472.0 360.0ZM578.5 377.4L582.0 377.4L584.7 378.5L586.2 380.5L586.0 382.5L584.8 384.0L582.5 385.1L580.0 385.4L576.0 384.8L575.5 387.7L572.8 390.0L571.9 392.5L570.1 394.0L565.5 395.5L559.0 395.7L554.1 394.5L552.3 393.5L551.0 392.0L550.8 390.5L551.7 389.0L555.5 387.0L561.0 386.2L567.5 386.7L570.9 384.0L574.5 383.7L574.8 383.5L574.3 381.0L574.9 379.5L576.5 378.1L578.5 377.4ZM510.5 380.5L513.0 381.1L515.4 383.0L517.0 385.9L517.5 389.0L517.0 392.5L515.5 395.3L513.0 397.3L510.5 397.9L508.0 397.3L505.5 395.3L504.0 392.5L503.5 389.0L504.0 385.9L505.6 383.0L508.0 381.1L510.5 380.5ZM537.5 396.5L539.5 396.0L541.5 396.4L543.3 397.5L544.5 399.2L544.9 401.0L544.5 403.2L543.2 405.0L541.5 406.0L539.5 406.4L537.5 405.9L536.0 405.0L534.6 403.0L534.3 401.0L534.8 399.0L535.9 397.5L537.5 396.5Z" fill="#0068FF" fill-rule="evenodd"/>
<path d="M443.0 287.9L444.5 287.9L446.1 288.5L447.5 289.8L448.2 291.5L448.2 293.5L447.5 295.2L446.1 296.5L444.5 297.1L443.0 297.1L441.5 296.5L440.0 295.0L439.4 293.5L439.4 291.5L440.0 290.0L441.5 288.5L443.0 287.9ZM480.5 316.9L484.0 317.1L485.9 318.0L487.0 319.0L487.9 320.5L488.2 322.0L487.9 323.5L487.0 325.1L484.5 326.8L480.0 327.2L475.0 329.0L475.5 332.0L474.8 333.5L473.5 334.5L470.5 335.2L467.5 334.1L466.1 332.0L466.3 330.5L466.8 329.5L468.0 328.5L469.5 327.9L474.1 328.0L474.5 326.5L475.9 324.5L475.7 321.5L476.4 319.5L478.0 317.9L480.5 316.9ZM490.0 326.0L492.5 326.0L494.5 326.5L496.5 327.8L497.8 329.5L498.3 331.5L497.8 333.5L496.5 335.2L494.5 336.5L492.0 337.1L489.0 336.8L486.4 335.5L484.8 333.5L484.4 331.0L485.4 328.5L487.0 326.9L490.0 326.0ZM569.0 345.4L571.0 345.5L573.0 346.5L574.5 348.1L575.5 350.5L575.5 354.5L573.8 358.5L575.5 361.3L575.8 363.5L575.1 365.5L573.5 367.1L572.0 367.7L570.5 367.8L567.0 366.4L562.5 368.3L558.5 368.7L554.1 367.5L550.0 364.6L545.0 365.6L540.5 365.9L536.5 365.2L534.5 363.9L534.4 362.5L535.2 361.5L540.8 358.5L540.6 358.0L538.8 357.0L537.6 355.0L534.9 352.0L534.9 350.0L536.8 348.0L539.0 347.2L541.5 347.0L544.0 347.3L545.8 348.0L547.7 350.0L548.1 353.5L551.5 355.8L557.0 353.7L563.6 354.0L564.1 350.5L565.0 348.3L566.6 346.5L569.0 345.4ZM485.0 350.5L489.0 350.2L492.6 351.0L494.3 352.0L495.1 353.0L495.1 355.0L493.5 356.5L490.5 357.6L487.0 357.8L483.4 357.0L481.3 355.5L480.8 353.5L482.4 351.5L485.0 350.5ZM472.5 360.0L474.0 360.0L475.4 360.5L477.0 362.5L476.8 365.0L476.0 366.1L474.5 366.9L473.0 367.1L471.5 366.7L470.5 366.0L469.6 364.5L469.4 363.0L470.0 361.6L471.0 360.6L472.5 360.0ZM580.0 378.0L582.9 378.5L584.7 380.0L585.0 382.0L584.4 383.0L583.1 384.0L581.0 384.6L579.0 384.5L577.0 383.7L575.8 382.5L575.5 381.0L576.3 379.5L577.7 378.5L580.0 378.0ZM509.0 380.9L511.5 380.8L514.2 382.0L516.2 384.5L517.2 387.5L517.2 391.0L516.2 394.0L514.0 396.5L511.5 397.6L509.0 397.5L506.5 396.1L504.6 393.5L503.7 390.5L503.8 387.5L504.8 384.5L506.5 382.3L509.0 380.9ZM571.0 384.9L572.5 384.6L573.9 385.0L574.7 386.0L574.7 387.0L573.9 388.0L571.2 389.5L570.9 391.5L570.3 392.5L567.5 394.2L563.5 395.1L558.5 394.9L554.1 393.5L552.9 392.5L552.3 391.5L552.3 390.5L552.9 389.5L556.0 387.7L561.5 386.8L568.5 387.7L571.0 384.9ZM539.0 396.4L541.0 396.6L542.7 397.5L544.0 399.0L544.5 400.6L544.3 402.5L543.5 404.1L542.0 405.4L540.0 406.0L538.0 405.7L536.5 405.0L535.3 403.5L534.7 401.5L535.0 399.5L535.9 398.0L537.2 397.0L539.0 396.4Z" fill="#00A0FF" fill-rule="evenodd"/>
<path d="M442.0 289.0L443.5 288.5L445.0 288.7L446.4 289.5L447.2 290.5L447.7 292.0L447.5 293.7L446.8 295.0L445.5 296.1L444.0 296.5L442.5 296.3L440.4 294.5L439.9 293.0L440.0 291.5L440.8 290.0L442.0 289.0ZM482.0 317.5L484.5 318.0L486.4 319.5L487.3 321.5L487.0 323.5L485.5 325.4L483.5 326.3L481.5 326.5L478.0 326.1L477.4 325.5L476.6 323.0L476.8 320.5L478.5 318.5L480.0 317.8L482.0 317.5ZM490.0 326.5L492.5 326.5L494.3 327.0L496.0 328.0L497.2 329.5L497.6 331.0L497.4 333.0L496.5 334.5L494.5 335.9L492.0 336.6L489.5 336.4L487.0 335.3L485.4 333.5L485.0 331.0L485.7 329.0L487.5 327.4L490.0 326.5ZM470.0 328.5L472.5 328.7L474.3 330.0L474.7 332.0L474.2 333.0L473.1 334.0L471.5 334.5L469.5 334.4L468.0 333.7L467.1 332.5L466.9 331.0L467.4 330.0L468.5 329.0L470.0 328.5ZM568.0 346.4L570.5 346.1L572.5 346.9L574.0 348.5L575.0 350.9L574.9 354.5L572.9 358.5L575.0 361.5L575.2 363.5L574.5 365.4L573.0 366.8L570.5 367.2L567.0 365.8L562.6 368.0L558.5 368.4L554.0 367.1L550.0 363.8L545.2 365.0L541.5 365.3L538.0 364.8L535.9 363.5L536.0 362.4L537.5 361.0L544.0 358.5L545.0 357.5L543.6 356.0L538.5 354.1L536.3 352.5L535.8 350.5L536.4 349.5L537.6 348.5L539.5 347.8L542.0 347.7L544.0 348.1L545.7 349.0L546.8 350.5L546.1 354.5L547.0 356.5L547.0 357.5L547.9 358.5L549.5 359.0L552.0 356.5L556.0 354.4L559.5 354.0L564.3 354.5L565.1 349.5L566.4 347.5L568.0 346.4ZM485.5 350.5L489.0 350.3L492.5 351.1L494.8 353.0L495.0 354.0L494.8 355.0L493.2 356.5L490.0 357.6L486.5 357.6L483.5 356.9L481.5 355.5L481.0 354.5L481.0 353.5L482.5 351.7L485.5 350.5ZM471.5 360.5L473.0 360.1L474.5 360.3L476.5 361.8L477.0 364.0L476.5 365.2L475.5 366.3L473.0 366.9L471.5 366.5L470.3 365.5L469.7 364.5L469.6 363.0L470.3 361.5L471.5 360.5ZM510.0 380.9L512.5 381.3L515.0 383.1L516.5 385.5L517.2 389.0L516.6 392.5L515.3 395.0L513.0 396.9L510.5 397.5L508.0 396.9L506.0 395.3L504.5 392.9L503.8 389.5L504.2 386.5L505.5 383.7L507.5 381.8L510.0 380.9ZM561.0 388.0L564.0 388.2L566.7 389.0L568.0 390.0L568.3 391.5L566.5 393.1L562.4 394.0L557.8 393.5L555.2 392.0L554.9 390.5L555.7 389.5L557.8 388.5L561.0 388.0ZM538.5 396.9L540.5 396.9L542.0 397.5L543.2 398.5L544.0 400.3L544.0 402.0L543.4 403.5L542.0 404.9L540.5 405.5L538.7 405.5L537.0 404.8L535.8 403.5L535.2 402.0L535.2 400.5L535.7 399.0L537.0 397.6L538.5 396.9Z" fill="#00C8FF" fill-rule="evenodd"/>
<path d="M443.5 289.4L445.6 290.0L446.8 292.0L446.6 293.5L446.1 294.5L444.0 295.6L442.0 295.0L440.8 293.0L441.0 291.5L441.5 290.5L443.5 289.4ZM481.5 318.5L484.5 319.2L485.5 320.2L486.1 321.5L486.0 322.9L485.4 324.0L484.1 325.0L482.5 325.5L479.5 325.0L478.4 324.0L477.7 322.5L477.8 321.0L478.5 319.9L479.7 319.0L481.5 318.5ZM491.0 327.0L493.0 327.2L494.9 328.0L496.4 329.5L496.9 331.0L496.6 333.0L495.5 334.5L494.0 335.5L492.0 336.0L490.0 335.9L487.7 335.0L486.2 333.5L485.7 332.0L486.0 330.0L487.1 328.5L488.6 327.5L491.0 327.0ZM470.5 329.4L472.5 329.9L473.4 331.0L473.1 332.5L471.6 333.5L469.5 333.3L468.2 332.0L468.5 330.5L470.5 329.4ZM569.0 347.0L571.0 347.1L572.5 348.0L573.7 349.5L574.4 351.5L573.9 355.0L573.0 356.6L571.1 358.5L573.6 360.5L574.5 362.5L574.0 364.9L572.5 366.2L570.4 366.5L567.5 365.1L563.0 367.5L558.5 368.1L555.8 367.5L553.5 366.4L549.5 362.1L549.0 362.1L546.9 363.5L543.5 364.2L539.7 364.0L538.3 363.0L538.5 362.3L539.3 361.5L543.5 360.2L546.5 360.2L549.0 361.4L549.5 361.1L552.2 357.0L554.3 355.5L556.5 354.6L560.5 354.4L565.0 355.4L565.4 355.0L565.2 352.0L565.9 349.5L567.1 348.0L569.0 347.0ZM540.0 348.9L542.0 348.8L544.1 349.5L545.0 351.0L544.5 352.4L543.5 353.1L542.0 353.5L540.0 353.2L538.5 352.5L537.7 351.5L537.7 350.5L538.5 349.5L540.0 348.9ZM486.5 350.5L490.0 350.6L492.9 351.5L494.5 353.0L494.8 354.0L494.5 355.0L492.9 356.5L489.6 357.5L486.4 357.5L483.1 356.5L481.5 355.0L481.2 354.0L481.5 353.0L483.1 351.5L486.5 350.5ZM569.0 359.0L569.0 359.0L569.0 359.0L569.0 359.0L569.0 359.0ZM472.0 360.5L474.5 360.4L476.5 362.0L476.8 363.0L476.7 364.5L475.0 366.4L473.5 366.8L472.0 366.5L470.2 365.0L469.8 364.0L469.9 362.5L470.5 361.5L472.0 360.5ZM509.0 381.4L511.5 381.2L514.1 382.5L516.0 384.9L516.9 388.0L516.7 391.5L515.5 394.4L513.5 396.4L511.0 397.2L508.5 396.9L506.5 395.6L505.0 393.5L504.1 390.5L504.1 387.5L505.0 384.9L506.9 382.5L509.0 381.4ZM538.5 397.5L540.0 397.3L541.5 397.8L542.9 399.0L543.5 400.4L543.5 402.0L543.0 403.2L542.0 404.3L540.5 405.0L539.0 405.0L537.5 404.5L536.4 403.5L535.7 402.0L536.0 399.5L537.0 398.3L538.5 397.5Z" fill="#00F0FF" fill-rule="evenodd"/>
<path d="M490.0 327.9L493.1 328.0L494.5 328.7L495.5 329.8L496.0 331.0L495.8 332.5L494.2 334.5L492.0 335.2L490.0 335.1L488.4 334.5L487.0 333.0L486.6 331.5L487.0 330.0L488.4 328.5L490.0 327.9ZM568.5 348.4L570.0 348.2L571.5 348.7L572.5 349.6L573.3 351.5L573.0 354.5L572.0 356.0L570.5 356.8L568.0 356.3L567.0 355.3L566.4 354.0L566.2 352.5L566.5 350.7L567.5 349.1L568.5 348.4ZM485.0 351.0L488.5 350.6L491.5 351.1L493.8 352.5L494.4 353.5L494.4 354.5L493.3 356.0L491.0 357.0L487.5 357.4L484.5 356.9L482.2 355.5L481.5 354.0L482.5 352.2L485.0 351.0ZM557.0 354.9L561.5 354.8L565.5 356.4L566.7 357.5L568.5 360.8L571.0 360.5L572.9 361.5L573.4 363.0L573.0 364.3L572.3 365.0L571.0 365.4L569.7 365.0L568.0 363.8L564.4 366.5L560.5 367.7L557.0 367.5L554.4 366.5L552.5 365.1L551.3 363.5L550.7 362.0L550.7 360.5L551.6 358.5L552.8 357.0L555.0 355.6L557.0 354.9ZM472.5 360.5L475.0 360.8L476.5 362.5L476.6 364.0L476.2 365.0L474.5 366.4L472.0 366.3L470.8 365.5L470.1 364.5L470.0 363.0L470.4 362.0L471.3 361.0L472.5 360.5ZM509.5 381.5L512.0 381.6L514.4 383.0L516.1 385.5L516.8 388.5L516.5 391.5L515.5 394.0L513.5 396.1L511.0 397.0L508.5 396.6L506.5 395.3L505.0 393.0L504.2 390.0L504.4 387.0L505.5 384.4L507.2 382.5L509.5 381.5ZM539.5 398.0L541.0 398.3L542.0 399.0L542.9 401.0L542.6 402.5L542.0 403.4L541.0 404.1L539.5 404.4L537.3 403.5L536.5 402.4L536.3 401.0L537.2 399.0L539.5 398.0Z" fill="#00FFF0" fill-rule="evenodd"/>
<path d="M491.0 329.0L493.3 329.5L494.4 331.0L494.4 332.0L493.9 333.0L492.0 334.0L489.5 333.6L488.2 332.0L488.2 331.0L488.7 330.0L491.0 329.0ZM486.0 350.9L489.0 350.8L492.0 351.5L493.9 353.0L494.2 354.0L493.9 355.0L492.5 356.2L490.0 357.1L487.0 357.2L484.0 356.5L482.1 355.0L481.9 353.5L483.1 352.0L486.0 350.9ZM556.5 355.4L559.0 355.0L561.5 355.2L564.0 356.1L565.9 357.5L567.2 359.5L567.6 361.5L567.3 363.0L565.8 365.0L563.0 366.7L559.5 367.4L556.0 366.8L553.0 365.0L551.3 362.0L551.6 359.5L553.5 357.0L556.5 355.4ZM472.0 360.9L474.0 360.7L476.0 362.0L476.4 364.0L476.0 365.0L475.0 365.9L472.5 366.3L470.6 365.0L470.2 364.0L470.4 362.5L472.0 360.9ZM509.0 381.8L511.5 381.7L514.0 383.0L515.6 385.0L516.6 388.0L516.5 391.0L515.2 394.0L513.5 395.8L511.0 396.8L508.5 396.4L506.5 395.0L505.2 393.0L504.5 390.5L504.5 387.5L505.4 385.0L507.0 383.0L509.0 381.8ZM538.5 399.3L540.0 399.1L541.5 400.0L541.8 401.5L540.9 403.0L539.5 403.4L537.8 402.5L537.4 401.5L537.5 400.5L538.5 399.3Z" fill="#00FFD0" fill-rule="evenodd"/>
<path d="M487.0 350.9L490.0 351.1L492.5 352.0L493.7 353.5L493.5 355.0L491.5 356.5L488.5 357.1L485.0 356.6L482.9 355.5L482.2 354.0L482.9 352.5L484.5 351.5L487.0 350.9ZM558.0 355.5L560.5 355.5L563.0 356.1L565.0 357.3L566.4 359.0L567.0 361.0L566.6 363.0L565.5 364.6L563.6 366.0L560.5 366.9L557.5 366.8L554.5 365.6L552.5 363.5L551.8 361.0L552.7 358.5L555.0 356.5L558.0 355.5ZM472.5 360.9L474.5 361.1L476.0 362.5L476.0 364.5L474.5 365.9L472.2 366.0L470.6 364.5L470.6 362.5L471.4 361.5L472.5 360.9ZM509.5 382.0L512.0 382.1L514.0 383.3L515.6 385.5L516.4 388.5L516.1 391.5L515.0 394.0L513.0 395.8L511.0 396.5L509.0 396.3L506.9 395.0L505.4 393.0L504.6 390.0L504.7 387.5L505.6 385.0L507.3 383.0L509.5 382.0Z" fill="#00FFA0" fill-rule="evenodd"/>
<path d="M485.5 351.4L488.5 351.1L491.0 351.6L493.1 353.0L493.4 354.5L492.5 355.6L490.5 356.6L487.5 356.9L485.0 356.4L483.3 355.5L482.5 354.0L483.3 352.5L485.5 351.4ZM558.0 355.9L560.5 355.9L562.5 356.4L564.5 357.5L565.8 359.0L566.3 360.5L566.2 362.5L565.4 364.0L563.6 365.5L561.0 366.4L558.0 366.5L555.2 365.5L553.1 363.5L552.4 361.5L553.0 359.0L555.0 357.0L558.0 355.9ZM472.0 361.4L474.0 361.1L475.5 362.1L475.9 364.0L475.0 365.4L473.0 365.9L471.2 365.0L470.7 363.0L472.0 361.4ZM509.0 382.4L511.5 382.2L513.5 383.2L515.1 385.0L516.1 388.0L516.0 391.0L515.0 393.5L513.1 395.5L511.0 396.2L509.0 396.0L507.0 394.8L505.7 393.0L504.9 390.5L504.9 388.0L505.6 385.5L507.0 383.6L509.0 382.4Z" fill="#00FF50" fill-rule="evenodd"/>
<path d="M486.5 351.4L489.0 351.4L491.4 352.0L492.7 353.0L493.0 354.5L492.0 355.6L489.9 356.5L487.0 356.6L484.6 356.0L483.3 355.0L483.0 353.5L484.5 352.1L486.5 351.4ZM558.0 356.4L562.0 356.7L563.6 357.5L565.1 359.0L565.7 360.5L565.7 362.0L565.0 363.6L563.4 365.0L561.0 366.0L558.0 366.0L555.5 365.1L553.8 363.5L553.0 361.5L553.7 359.0L555.5 357.3L558.0 356.4ZM472.5 361.5L474.2 361.5L475.5 362.8L475.4 364.5L474.2 365.5L472.4 365.5L471.0 364.0L471.2 362.5L472.5 361.5ZM510.0 382.4L512.0 382.7L514.0 384.0L515.5 386.4L516.0 389.0L515.7 391.5L514.5 393.9L512.6 395.5L510.5 396.0L508.5 395.5L506.6 394.0L505.5 392.0L505.0 389.5L505.3 387.0L506.5 384.5L508.0 383.1L510.0 382.4Z" fill="#50FF00" fill-rule="evenodd"/>
<path d="M485.5 351.9L488.0 351.5L490.7 352.0L492.2 353.0L492.5 354.5L491.5 355.6L489.5 356.3L487.5 356.4L485.3 356.0L483.8 355.0L483.4 354.0L483.8 353.0L485.5 351.9ZM558.0 357.0L561.5 357.1L563.3 358.0L564.3 359.0L565.0 360.5L565.0 362.0L564.2 363.5L563.1 364.5L561.0 365.4L558.5 365.5L556.5 365.0L554.5 363.4L553.7 361.5L554.2 359.5L555.5 358.0L558.0 357.0ZM472.5 361.8L474.0 361.8L475.0 362.6L475.2 364.0L474.4 365.0L473.0 365.3L471.6 364.5L471.4 363.0L472.5 361.8ZM509.0 383.0L511.0 382.7L513.0 383.5L514.5 385.0L515.6 387.5L515.7 390.0L515.0 392.6L513.5 394.5L511.5 395.6L509.5 395.6L508.0 394.9L506.5 393.4L505.4 391.0L505.3 388.5L505.9 386.0L507.3 384.0L509.0 383.0Z" fill="#A0FF00" fill-rule="evenodd"/>
<path d="M486.5 352.0L489.0 351.9L491.0 352.5L492.0 353.5L492.0 354.5L491.0 355.5L489.0 356.1L487.0 356.1L485.0 355.5L484.0 354.5L484.0 353.5L485.0 352.5L486.5 352.0ZM559.0 357.5L562.0 358.0L564.0 360.0L564.3 361.5L564.0 362.5L563.0 363.7L561.5 364.6L559.5 365.0L557.1 364.5L555.5 363.5L554.6 362.0L554.6 360.5L555.4 359.0L557.0 357.9L559.0 357.5ZM472.5 362.4L473.5 362.2L474.5 362.7L474.8 363.5L474.3 364.5L473.0 364.8L472.0 364.1L471.9 363.0L472.5 362.4ZM510.5 383.0L512.5 383.5L514.0 384.8L515.0 386.5L515.5 389.0L515.2 391.5L514.1 393.5L512.5 394.9L510.5 395.4L508.5 394.9L506.9 393.5L505.8 391.5L505.5 389.0L506.0 386.5L507.0 384.8L508.5 383.5L510.5 383.0Z" fill="#C8FF00" fill-rule="evenodd"/>
<path d="M486.0 352.5L488.0 352.2L490.0 352.5L491.3 353.5L491.3 354.5L490.5 355.2L489.0 355.7L486.0 355.5L485.1 355.0L484.5 354.0L485.1 353.0L486.0 352.5ZM558.0 358.4L560.5 358.4L562.6 359.5L563.2 361.5L562.5 363.0L561.0 363.9L559.5 364.2L558.0 364.0L556.3 363.0L555.7 362.0L555.6 360.5L556.5 359.2L558.0 358.4ZM509.5 383.4L511.5 383.4L513.4 384.5L514.5 386.0L515.2 388.5L515.0 391.0L514.1 393.0L512.6 394.5L511.0 395.0L509.0 394.8L507.5 393.8L506.3 392.0L505.8 390.0L505.9 388.0L506.5 386.0L507.6 384.5L509.5 383.4Z" fill="#E8FF00" fill-rule="evenodd"/>
<path d="M486.5 352.9L489.0 352.8L490.0 353.2L490.6 354.0L489.5 355.1L487.0 355.2L486.0 354.8L485.4 354.0L486.5 352.9ZM559.0 359.4L560.5 359.6L561.6 360.5L561.7 361.5L561.0 362.5L559.0 363.0L557.3 362.0L557.2 360.5L559.0 359.4ZM509.0 384.0L511.0 383.7L512.5 384.3L514.0 385.8L514.7 387.5L514.9 390.0L514.4 392.0L513.0 393.8L511.5 394.6L509.5 394.6L508.0 393.8L506.9 392.5L506.2 390.5L506.1 388.5L506.6 386.5L507.6 385.0L509.0 384.0Z" fill="#FFF000" fill-rule="evenodd"/>
<path d="M488.0 354.0L488.0 354.0L488.0 354.0L488.0 354.0ZM509.0 384.4L510.5 384.0L512.2 384.5L513.5 385.6L514.4 387.5L514.7 389.5L514.2 391.5L513.0 393.3L511.5 394.2L510.0 394.3L508.5 393.7L507.3 392.5L506.5 390.6L506.3 389.0L506.7 387.0L507.6 385.5L509.0 384.4Z" fill="#FFD000" fill-rule="evenodd"/>
<path d="M510.0 384.5L511.5 384.6L513.0 385.6L514.0 387.3L514.3 389.0L514.0 391.0L513.3 392.5L512.0 393.6L510.5 393.9L509.0 393.6L508.0 392.8L507.0 391.1L506.7 389.5L506.9 387.5L507.5 386.2L508.5 385.2L510.0 384.5Z" fill="#FFB400" fill-rule="evenodd"/>
<path d="M510.0 385.0L511.5 385.1L512.8 386.0L513.7 387.5L514.0 389.0L513.8 390.5L513.0 392.2L512.0 393.1L510.5 393.5L509.0 393.1L508.0 392.2L507.0 389.5L507.8 386.5L508.8 385.5L510.0 385.0Z" fill="#FF9000" fill-rule="evenodd"/>
<path d="M510.0 385.5L511.5 385.6L512.5 386.4L513.5 389.0L513.3 390.5L512.5 392.0L510.5 393.0L508.5 392.0L507.5 389.5L508.0 387.0L509.0 385.9L510.0 385.5Z" fill="#FF5800" fill-rule="evenodd"/>
<path d="M509.5 386.3L510.5 386.1L511.5 386.3L512.5 387.3L513.0 388.5L512.6 391.0L511.0 392.3L510.0 392.3L509.0 391.7L508.1 390.0L508.2 388.0L509.5 386.3Z" fill="#FF0030" fill-rule="evenodd"/>
</g>
</g>
<g fill="none" stroke="#000" stroke-width="1" stroke-linejoin="round" shape-rendering="crispEdges">
<path d="M117.5 207 L123.8 205.8 L127.5 205 L132.5 203 L142.5 202 L145 204.2 L155 205 L160 207 L163.8 210 L175 210.5 L186.2 211.2 L193.8 210.8 L197.5 209.5 L197 204.5 L193 202 L192.5 198 L196.2 193.8 L201.2 191.8 L203.8 189.2 L206.2 190.5 L212.5 191.8 L222.5 192.5 L230 194.2 L235 196.2 L238 201.2 L240 205"/>
<path d="M117.5 229.2 L121.2 230.8 L124.5 236.2 L127.5 241.2 L127.5 247.5 L123.8 250.5 L123.8 255 L128.8 256.2 L137.5 257.5 L153.8 258.8 L156.2 261.2 L168.8 265.8 L172.5 271.2 L176.2 277.5 L178.8 280.5 L192.5 281.2 L212.5 280.8 L216.2 280 L230 281.2 L235 285 L242.5 286.2 L248.8 289.2 L257.5 290 L261.2 291.2 L270 288.8 L280 285 L292.5 283 L302 282"/>
<path d="M250.5 194.5 L253.8 193 L263.8 191.8 L268.8 188.8 L273.8 184.5 L280 182.5 L286.2 177.5 L293.8 171.2 L298.8 162.5 L302.5 156.2 L306.2 154.2 L308.2 156.2 L307.5 162.5 L305.5 171.2 L301.2 176.2 L298 175 L298.8 178.8 L293.8 181.2 L285 184.5 L277.5 187.5 L270 192.5 L265 195.5 L257.5 196.8 L252 196.2Z"/>
<path d="M282.5 179.2 L284.5 178 L286.5 179.2 L284.5 180.5Z"/>
<path d="M"/>
<path d="M240 206.2 L251.2 206.8 L261.2 205.5 L270 206.8 L280 206.8 L283.8 209.5 L291.2 211.2 L293.8 213.8 L302.5 216.2 L310.8 217.5 L320 216.2 L332.5 213.8 L342.5 210.5 L348.8 208 L355 205.5 L360 207 L365 209.5 L370 208.8 L373.8 210.5 L378 211.2"/>
<path d="M378 211.2 L375 217.5 L371.2 223.8 L367.5 227.5 L367 230.5 L372.5 230.5 L378.8 230 L382 232.5 L387.5 228.8 L393.8 228.2 L398.8 232 L403.8 237 L406.8 240 L402.5 241.8 L392.5 243 L383.8 244.5 L376.2 247 L370 252.5 L362.5 255 L355 257 L347.5 261.2 L341.2 260 L335 257.5 L328.8 258 L325.8 261.2 L325.8 266.2 L328.8 270 L327.5 272.5 L320 276.2 L311.2 280.5 L300 282.5"/>
<path d="M378 211.2 L380 211.8"/>
<path d="M380 210.8 L385 212.5 L390 211.2 L398.8 209.2 L401.2 205 L405 198.8 L410 193.8 L416.2 188.8 L416.2 185.8 L409.5 183.2 L409.5 180.8 L416.2 177.5 L427.5 175.8 L442.5 175 L450 176.8 L457.5 178.8 L463.8 178.2 L466.2 182.5 L470.5 185 L471.2 190 L476.2 197.5 L480 202.5 L482.5 210 L487.5 212 L497.5 213 L502.5 216.2 L506.2 220 L511.2 221.2 L512.5 226.2 L515 231.2 L523.8 231.8 L531.2 230.8 L535 227.5 L545 226.2 L553 225.8 L551.2 233.8 L546.2 237.5 L545 243.8 L540 250 L536.2 257 L530 258 L523.8 256.8 L516.2 258.8 L515 261.2 L517.5 266.2 L517 275 L515 280 L510 283 L507.5 280 L505 278.8 L503.8 283.8 L496.2 287.5 L488.8 288.8 L487.5 291.8 L480 292.5 L477.5 288.8 L471.2 292.5 L465 297.5 L460 301.2"/>
<path d="M649.5 118.8 L640 119.2 L630 121.2 L620 126.2 L610 132.5 L600 137.5 L590 142.5 L580 149.5 L570 155 L562.5 158.8 L556.2 163.2 L560 165 L567.5 165.5 L571.2 168.8 L572 172.5 L576.2 173.8 L578.8 175 L585 175 L587.5 176.2 L591.2 170 L597.5 168.8 L602.5 169.5 L607.5 173.8 L615 177 L617.5 178.8 L615 180.8 L616.2 185 L618.2 188.8 L613.8 193.8 L610 200 L608.8 207.5 L610 215 L607.5 221.2 L603.8 226.2 L597.5 231.2 L591.2 237.5 L587.5 246.2 L580 253.8 L572.5 260 L565 265.5 L557.5 272.5 L550 277.5 L542.5 280.5 L535 281.2 L530 279.5 L528.8 276.2 L525 275 L520 280 L513.8 283 L507.5 286.2 L505 290 L500 297.5 L498.8 302"/>
<path d="M578 162.5 L581.2 160 L585 161.8 L582 165Z"/>
<path d="M576.2 169.5 L579.5 169 L580.5 171.5 L577.5 172Z"/>
<path d="M587.5 175.5 L590 171.2 L590.8 172.5 L588.5 176.5Z"/>
<path d="M602.5 178.2 L610 179.5 L617 179"/>
<path d="M649.5 221.2 L645 211.2 L641.2 202.5 L637.5 195 L635 187.5 L636.2 182.5 L635.5 177.5 L633 173.8 L632.5 170 L630 168 L627.5 168.8 L626.2 171.2 L628.8 173.8 L627.5 176.2 L622.5 177 L620.5 182.5 L620 188.8 L622 193.8 L624.5 197.5 L625 205 L623.8 212.5 L622.5 220 L625 226.2 L623.8 232.5 L622.5 240 L623.8 246.2 L626.2 249.2 L628 245 L631.2 242.5 L636.2 243.8 L638 247.5 L639.2 245 L637.5 240 L633 236.2 L630 232.5 L629.5 226.2 L632.5 220 L636.2 217.5 L642.5 216.2 L647.5 218.8 L649.5 221.2"/>
<path d="M385 318.8 L387.5 317 L395 316.2 L401.2 313.8 L403.8 310 L408.8 309.5 L412.5 306.2 L417.5 301.2 L422.5 299.5 L427.5 298.8 L430 302.5 L427.5 307.5 L423.8 311.2 L426.2 315 L421.2 318.8 L419.8 319.8 L423 319.5 L424.8 317 L428.5 315 L432.2 313 L436 312 L439.8 310.5 L443.5 310 L447.2 310 L451 309.8 L453 307.5 L452.8 305.8"/>
<path d="M385 318.8 L386.2 325 L392.5 328.8 L398.8 332.5 L400 336.2 L406.2 336.2 L412.5 331.2 L417.5 330 L425 331.2 L432.5 332.5 L433.2 336.2 L428.8 338.8 L423.8 342.5 L417.5 345.5 L412.5 347 L408.8 351.2 L403.8 352.5 L400.5 357.5 L402.5 361.2 L407.5 362.5 L411.2 366.2 L415 373.8 L420 380 L423.8 386.2 L426.2 390 L420 388 L410 387.5 L408.8 391.2 L417.5 392.5 L423.8 395"/>
<path d="M423.7 391.3 L425.8 392.5 L426.7 396.7 L423.3 399.2 L418.3 401.7 L413.3 402.5 L410 403.3 L413.3 405 L420 404.2 L424.2 405.8 L427.5 406.3 L425.8 409.2 L423.3 410.8 L424.2 413.3 L422.5 417.5 L423.7 420 L420.8 423.3 L418.3 422.5 L415.8 425.8 L414.2 430 L411.7 432.5 L408.3 435.8 L405.3 438.7 L406.3 440 L404.2 443.3 L402.5 447.5 L400 449.2 L397.5 452.5 L395.8 455.8 L394.2 458 L390 458.3 L387.5 461.7 L385 464.2 L382.5 466.7 L380 468"/>
<path d="M498.5 422.5 L500.5 420.5 L500 423Z"/>
<path d="M494.5 427 L495.5 425.5"/>
<path d="M483.2 442.5 L485.5 438 L488 437 L486.2 440.5Z"/>
<path d="M459.5 456 L461 457"/>
<path d="M445 459.5 L448 460"/>
<path d="M514 331.8 L515.5 332.5"/>
<path d="M453.3 305 L455.8 303.3 L460.3 300.7"/>
<path d="M498.7 302 L493.3 305 L491.7 307.5 L484.2 309.7 L481.7 312.5 L481.3 315.8 L486.7 318.3 L490 321.7 L493.3 325 L496.7 328.3 L499.2 333.3 L500.3 338.3 L500.8 343.3 L501.2 348.3 L500 353.3 L497.5 355.8 L493.3 358.3 L490 357.5 L485 358.3 L481.7 359.2 L479.2 360.8 L476.7 363.3 L473.3 365 L470 364.2 L470.8 361.7 L468.3 361.7 L469.2 365"/>
<path d="M453.3 305 L455.8 308.3 L459.2 312.5 L460.8 315.8 L459.7 320 L457 324.2 L455 327.5 L457.5 327.5 L459.2 330 L463.3 329.2 L465.8 327.5 L470 328.3 L473.3 330 L472.5 333.3 L474.2 336.7 L475 339.2 L471.7 339.2 L468.3 340 L470 342.5 L472.5 342.5 L473.3 345.8 L474.2 348.3 L472.5 350.8 L470.8 354.2 L471.7 358.3 L470 361.7"/>
<path d="M465.8 328.3 L470 329.2 L475 327.5 L478.3 325.8 L486.7 325 L493.3 325.8"/>
<path d="M"/>
<path d="M498 364.2 L499.7 361.3 L500.3 362 L499 365Z"/>
<path d="M592 329.1 L590.4 331.6 L587.9 334.8 L584.8 337.2 L581 338.5 L576.6 339.1 L574.8 337.2 L576 335.4 L577.9 334.5 L577.2 332.9 L574.8 333.2 L572.9 334.8 L571.6 337.9 L570.4 341 L567.9 344.1 L565.4 347.2 L562.9 350.4 L560.4 351.6 L557.2 348.5 L552.2 349.1 L547.2 349.8 L542.2 350.4 L537.2 351 L532.9 351.6 L529.1 354.1 L525.4 357.2 L521 360.4 L517.9 362.2 L515.4 363.2 L515.4 365.4 L512.2 367.2 L508.5 369.1 L505.4 371.6 L502.9 374.1"/>
<path d="M613.5 340 L611.5 345.5 L610.2 351.2 L607.8 355 L604 356.2 L601.5 352.5 L599 355 L595.2 355"/>
<path d="M592 355.4 L590.4 356 L588.5 357.9 L586 359.8 L581 360 L577.2 360.4 L574.8 361 L573.5 359.1 L572.2 356.6 L571 357.9 L571.6 359.8 L572.9 361.6 L571.6 362.9 L569.8 364.8 L567.9 367.2 L565.4 369.8 L562.9 371 L559.8 369.1 L557.2 366 L556 363.5 L553.8 363.8 L554.1 361.6 L556.6 361.2 L557.2 359.8 L555.4 359.1 L551 359.5 L546 360.4 L541 361.6 L537.2 362.2 L533.5 362.9 L529.1 363.5 L526 364.8 L522.2 366 L517.9 366.6 L515.4 365.4"/>
<path d="M527.2 372.9 L529.8 371 L533.5 369.8 L537.2 368.5 L541 367 L544.8 365.8 L548.5 364.8 L551.6 364.1 L551.6 367.2 L549.1 369.8 L547.2 371.6 L544.1 372.9 L540.4 374.1 L537.2 376 L534.8 378.5 L532.9 379.1 L531 377.2 L529.1 375.4Z"/>
<path d="M502.9 374.1 L503.5 372.9 L506 373.5 L507.9 374.8 L511 375.4 L514.8 374.1 L519.1 372.9 L521.6 372.5 L524.1 374.1 L525.4 376.6 L524.8 379.1 L522.9 381.6 L522 384.8 L521 387.9 L520.4 391 L519.1 393.5 L516.6 394.8 L514.8 395.4 L512.2 394.1 L510.4 391.6 L509.1 388.5 L508.5 384.8 L508.2 381 L507.2 378.5 L504.8 376.6 L503.5 375.4Z"/>
<path d="M507.9 374.8 L509.8 376.6 L511.6 379.1 L511.6 381.6 L509.8 382.9 L508.5 381"/>
<path d="M503.5 376 L503.8 379.1 L505.4 380 L505 377.5Z"/>
<path d="M509.1 384.8 L510.4 388.5 L512.9 389.8 L513.5 391.6 L514.8 391"/>
<path d="M510.8 401.5 L512.2 402.5"/>
<path d="M515.4 399.5 L516 401.8"/>
<path d="M514.2 331.5 L515.2 332.2"/>
<path d="M587.6 327.2 L589.1 328.5 L588.5 327Z"/>
<path d="M117.5 423 L128.8 423.8 L132.5 427 L135 426.2 L142.5 422 L152.5 416.2 L163.8 412.5 L173.8 410.8 L175.5 415 L176.2 419.5 L182.5 420.5 L188.8 421.2 L193.8 423.8 L197.5 428.8 L199.5 435 L198.8 443.8 L195 450 L190 456.2 L189.5 463.8 L196.2 461.2 L201.2 460 L203.8 467.5 L205 472.5 L208.8 478.8 L211.2 482.5 L213.8 485 L213.8 488.8 L217.5 487.5 L222.5 486.2 L225 490 L230 488.8 L231.2 483.8 L230.8 478.8 L235 478 L238.8 475.5 L243.8 477.5 L248.8 475.5 L253.8 476.2 L258.8 473 L265 469.5 L268.8 472.5 L275 475 L279.5 475.5 L278.8 482.5 L282.5 484.5 L288.8 486.2 L295 487 L302 488"/>
<path d="M132.5 427 L131.2 430.5 L135 431.2 L135 435 L117.5 436.2"/>
<path d="M185 422 L183.8 430 L177.5 431.2 L170 433.8 L165 440 L161.2 448.8 L158.8 456.2 L156.2 462.5 L147.5 463 L146.2 466.2 L145 473.8 L143.8 480 L141.2 485 L141.2 490 L137.5 491.2 L136.2 488.8 L133.8 481.2 L131.2 476.2 L128.8 475.5"/>
<path d="M117.5 453 L125 453 L135 453 L139.5 453.8 L136.2 457.5 L135 461.2 L130 463 L128 466.2 L129.5 471.2 L133.8 468 L137.5 467 L139.5 472.5 L140 478.8 L141.2 485"/>
<path d="M117.5 483 L121.2 480 L122.5 475.5 L120.5 474.5 L120 478.8 L118.8 481.2"/>
<path d="M122.5 476.2 L128.8 475.5"/>
<path d="M128.8 475.5 L131.2 477.5 L133.8 482.5 L135 488.8 L137.5 495 L141.2 498.8 L145 502.5 L148.8 504.5 L150 508.8 L152.5 510 L154.5 513 L156.2 517.5 L158.8 522.5 L160 528.8 L158.8 535 L157 541.2 L160 542.5 L163.8 543.8 L167.5 543.8 L171.2 541.2 L175.5 537.5 L180 534.5 L180.8 529.5 L183.8 532.5 L187.5 535 L190 537.5 L191.2 545 L192.5 552.5 L193.8 560 L196.2 566.2 L198.8 572.5 L197.5 576.2 L200 580 L198.8 585 L201.2 590 L200 595 L198.8 598"/>
<path d="M213.8 498 L208.8 498.8 L203.8 501.2 L200 504.5 L195 506.2 L191.2 510 L188.8 513.8 L190 518.8 L192.5 523.8 L196.2 528.8 L200 532.5 L202.5 537.5 L201.2 543.8 L197.5 547.5 L198.8 553.8 L201.2 560 L203.8 565 L206.2 570 L208.8 576.2 L210 582.5 L208.8 587.5 L206.2 592.5 L203.8 598"/>
<path d="M213.8 488.8 L213 493.8 L213.8 498"/>
<path d="M213.8 498 L217.5 497.5 L220 501.2 L220 505 L225 506.2 L225.5 512.5 L224.5 520 L223 525.5 L227.5 523.8 L232.5 520 L238.8 521.2 L245 518 L250 518.8 L256.2 522.5 L260 527.5 L261.2 533.8 L265 540 L268 546.2 L267.5 552.5 L265 557.5"/>
<path d="M283.8 557 L275 557.5 L270 560 L265 557.5 L258.8 557.5 L251.2 557 L243.8 557.5 L238.8 561.2 L236.2 565 L238.8 570 L240 576.2 L241.2 582.5 L243.8 586.2 L246.2 591.2 L248.8 595 L253.8 597"/>
<path d="M209 598 L210.2 590 L211.5 582.5 L212.8 575 L213.8 568.8 L217.5 566.2 L221.2 567.5 L222.5 573.8 L227.5 575 L232.5 575 L237.5 578.8 L241.2 582.5"/>
<path d="M283.8 557 L285 562.5 L286.2 570 L283.8 576.2 L282.5 581.2 L275 582.5 L271.2 586.2 L273.8 591.2 L270 592.5 L262.5 593.8 L257.5 596.2 L253.8 597"/>
<path d="M238.8 475.5 L240 482.5 L242.5 487.5 L241.2 491.2 L246.2 493.8 L255 492.5 L257.5 496.2 L260 501.2 L261.2 503.8 L256.2 505 L252.5 506.2 L252 510 L256.2 512.5 L261.2 515 L266.2 520 L272.5 526.2 L277.5 532.5 L282.5 538.8 L285 545 L286.2 550 L285 553.8 L283.8 557"/>
<path d="M302 488 L295 487 L288.8 486.2 L285 488.8 L280 492.5 L275 496.2 L271.2 502.5 L268.8 508.8 L267.5 513.8 L270 518.8 L275 525 L280 530 L285 535 L290 540"/>
<path d="M289.8 592.6 L285.9 595.6 L281.9 596.7 L278.6 597.6"/>
<path d="M141.2 585 L140.5 582.5 L142 570 L143.2 565.5 L144.5 566.2 L143.8 572.5 L142.5 582.5Z"/>
<path d="M196.2 573.8 L197.5 577"/>
<path d="M196.2 582.5 L198.8 585 L197.5 581.2"/>
<path d="M290 488.8 L296.2 486.2 L302.5 487.5 L306.2 489.5 L307.5 495 L310 498.8 L313 500 L313.8 496.2 L312 492.5 L315 490 L322.5 487.5 L328.8 485 L335 483.8 L340 481.2 L341.2 477.5 L345 475.5 L348.8 480 L352.5 478 L358.8 476.2 L365 475 L372.5 473.8 L376.2 470 L380 467"/>
<path d="M298.8 508.8 L302.5 505 L308.8 502.5 L315 502 L319.5 503 L318.8 507.5 L316.2 512.5 L312.5 516.2 L308.8 519.5 L303.8 518.8 L299.5 516.2 L298 512.5Z"/>
<path d="M425 452 L421.2 452.5 L416.2 456.2 L412.5 461.2 L409.5 466.2 L410 472.5 L412.5 478.8 L415.5 483.8 L417.5 480 L420 473.8 L422.5 467.5 L425 461.2 L426.2 455Z"/>
<path d="M444.5 460.5 L448.8 459.5"/>
<path d="M459.5 455.8 L461.2 457"/>
<path d="M290 538.8 L293.8 541.2 L297.5 546.2 L300.5 552.5 L302 560 L303 567.5 L303.8 573.8 L302 580 L300 585 L295 588.8 L290 591.2"/>
<path d="M414.2 517.5 L416.7 515.8 L420.8 517 L425 519.2 L428.3 517.5 L430 519.2 L430 525 L431.7 529.2 L433 532.5 L431.7 536.7 L429.2 540 L425.8 543.3 L423.3 545.8 L421.7 550 L422.5 554.2 L424.2 557.5 L424.7 561.7 L428.3 562.5 L430 560 L433.3 558.3 L436.7 559.7 L438.3 562 L441.7 562.5 L445 563.3 L444.7 566.7 L445.8 570 L448.3 571.7 L448.7 575.8 L445.8 576.7 L443.3 575 L444.2 578.3 L446.7 581.7 L444.2 582.5 L440.8 580 L439.7 576.7 L440.8 574.2 L438.3 571.7 L435.8 570 L434.2 566.7 L431.7 563.3 L429.2 563.3 L426.7 562.5 L423.3 563.3 L420.8 565.3 L417.5 564.7 L415 562.5 L414.2 559.2 L415.8 556.7 L413.3 555 L410.8 554.2 L409.2 553.3 L408.7 550 L407.5 546.7 L406.7 543.3 L406.3 540 L409.2 540.8 L410.8 536.7 L411.7 530 L412.5 523.3 L413.3 519.2Z"/>
<path d="M412.5 566.7 L415.8 565.8 L420 567.5 L422.5 570 L423.3 575 L420.8 579.2 L418.3 577.5 L415.8 572.5 L414.2 569.2Z"/>
<path d="M427 551.7 L426.7 555"/>
<path d="M426.8 551.7 L426.5 555"/>
<path d="M427.5 575.8 L428 579.2"/>
<path d="M427.8 575.8 L428.3 579.2"/>
<path d="M430.8 576.7 L434.2 577.5"/>
<path d="M427.5 583.3 L431.7 584.2 L435.8 585.8 L438.3 586.7 L437.5 590 L434.2 591.7 L430.8 595 L427.5 595.8 L427.2 590Z"/>
<path d="M433.3 595 L437.5 592.5 L440.8 593.3 L443.3 591.7 L446.7 588.3 L447.5 595 L444.2 596.7 L440 596.7 L435 596.7Z"/>
<path d="M450.8 576.7 L455 575.3 L459.2 576.3 L461.7 580 L462.5 586.7 L463.3 590 L460.8 589.2 L458.3 586.7 L455.8 583.3 L453.3 580.8Z"/>
<path d="M451.7 584.2 L453.3 586.7 L454.2 590.8 L456.7 595 L458.3 597.5 L455 596.7 L452.5 591.7 L450.8 587.5Z"/>
<path d="M426.2 565.8 L428.7 566.7 L428 569.2 L425.8 568.3Z"/>
<path d="M432.5 564.2 L435 566.7 L436.7 570 L435 569.2 L433 566.7Z"/>
<path d="M398.3 597.5 L400.8 595 L402.5 588.3 L403.3 590.8 L404.2 595 L402.5 597.5"/>
<path d="M406.7 580.8 L410 579.7"/>
<path d="M408.3 578.3 L408.7 582.5"/>
<path d="M462 596.7 L463.3 597.7"/>
<path d="M415 480 L415.8 483.3 L416.7 480.8"/>
<path d="M649.2 269.7 L643.3 268.4 L636.8 266 L631.6 262.1 L627.1 258.2 L623.8 255.4 L621.2 254.1 L620.2 256.3 L620.7 260.8 L620.9 264.7 L620.2 268.6 L618.3 271 L617.3 273.6 L616.9 275.8 L614 276.5 L610.1 276.5 L608.2 275.4 L608.4 278 L606.6 279.7 L604.3 281 L603 283 L602.7 285.8 L603.5 288.8 L603.8 292.1 L604.5 293.6 L606.9 292.7 L609.5 291.8 L612.1 291 L615.3 290.1 L613.4 289.2 L611.4 288.2 L608.8 287.1 L607.1 285.6 L607.5 284.3 L610.1 283.6 L613.4 283.2 L617.3 283 L619.6 282.3 L622.5 283.6 L626.4 284.9 L630.3 286.2 L633.6 287.9 L635.8 289.2 L637.5 286.9 L639.4 284.3 L641.4 281.4 L644.6 279.7 L649.2 279.1"/>
<path d="M604 301.2 L604.9 299.2 L606.9 297.3 L608.8 296 L610.5 297.9 L611.8 299.9 L613.4 298.6 L612.1 296.2 L611.8 294.4 L614 293.1 L616.6 293.8 L618.6 295.7 L619.2 298.6 L620.5 301.8 L622.2 304.5 L623.8 307.7 L624.5 312.9 L623.2 316.8 L620.5 319.4 L619.2 323.3 L616 325.3 L613.6 326.6 L613.4 329.8 L614.4 333.1 L614 336.4 L612.1 340"/>
<path d="M604 301.2 L603.6 305.1 L604.3 309 L603.6 312.9 L602.3 317.5 L600.4 322 L598.4 325.3 L595.2 327.9 L591.9 330.5"/>
<path d="M586.7 327.2 L589.3 324.6 L589.7 326.6 L587.6 329.6Z"/>
<path d="M614.7 257.3 L615.6 256.4 L616.5 257.3 L615.6 258.2Z"/>
<path d="M602.3 283.6 L603 286.2"/>
<path d="M602.6 283.6 L603.2 286.2"/>
<path d="M604 288.8 L604.3 291.4"/>
<path d="M603.6 310.3 L604 312.3"/>
<path d="M612.7 295.3 L614.7 294.7 L616.6 296 L615.3 297.3Z"/>
<path d="M470.8 372.5 L471.8 371.7 L473.8 371.5 L475.2 372 L474.6 372.8 L472.5 373Z"/>
</g>
<g stroke="#000" stroke-width="1" stroke-dasharray="3 1.5" shape-rendering="crispEdges">
<line x1="212.5" y1="116" x2="212.5" y2="598"/><line x1="310.5" y1="116" x2="310.5" y2="598"/><line x1="408.5" y1="116" x2="408.5" y2="598"/><line x1="505.5" y1="116" x2="505.5" y2="598"/><line x1="603.5" y1="116" x2="603.5" y2="598"/><line x1="118" y1="210.5" x2="649" y2="210.5"/><line x1="118" y1="307.5" x2="649" y2="307.5"/><line x1="118" y1="405.5" x2="649" y2="405.5"/><line x1="118" y1="503.5" x2="649" y2="503.5"/>
</g>
</g>
<rect x="117.5" y="115.5" width="532" height="483" fill="none" stroke="#000" stroke-width="1" shape-rendering="crispEdges"/>
<g shape-rendering="crispEdges">
<rect x="38.00" y="606" width="11.00" height="21" fill="#FFFFFF"/>
<rect x="48.70" y="606" width="11.00" height="21" fill="#FFF0FF"/>
<rect x="59.40" y="606" width="11.00" height="21" fill="#FFE1FF"/>
<rect x="70.10" y="606" width="11.00" height="21" fill="#FDD2FF"/>
<rect x="80.80" y="606" width="11.00" height="21" fill="#FAC3FF"/>
<rect x="91.50" y="606" width="11.00" height="21" fill="#F5AFFF"/>
<rect x="102.20" y="606" width="11.00" height="21" fill="#EC8CFF"/>
<rect x="112.90" y="606" width="11.00" height="21" fill="#E064FF"/>
<rect x="123.60" y="606" width="11.00" height="21" fill="#D030FF"/>
<rect x="134.30" y="606" width="11.00" height="21" fill="#C000FF"/>
<rect x="145.00" y="606" width="11.00" height="21" fill="#B400FA"/>
<rect x="155.70" y="606" width="11.00" height="21" fill="#A800F5"/>
<rect x="166.40" y="606" width="11.00" height="21" fill="#8C00FF"/>
<rect x="177.10" y="606" width="11.00" height="21" fill="#7000FF"/>
<rect x="187.80" y="606" width="11.00" height="21" fill="#5000FF"/>
<rect x="198.50" y="606" width="11.00" height="21" fill="#3000FF"/>
<rect x="209.20" y="606" width="11.00" height="21" fill="#1000FF"/>
<rect x="219.90" y="606" width="11.00" height="21" fill="#0040FF"/>
<rect x="230.60" y="606" width="11.00" height="21" fill="#0068FF"/>
<rect x="241.30" y="606" width="11.00" height="21" fill="#0088FF"/>
<rect x="252.00" y="606" width="11.00" height="21" fill="#00A0FF"/>
<rect x="262.70" y="606" width="11.00" height="21" fill="#00B4FF"/>
<rect x="273.40" y="606" width="11.00" height="21" fill="#00C8FF"/>
<rect x="284.10" y="606" width="11.00" height="21" fill="#00DCFF"/>
<rect x="294.80" y="606" width="11.00" height="21" fill="#00F0FF"/>
<rect x="305.50" y="606" width="11.00" height="21" fill="#00FFFF"/>
<rect x="316.20" y="606" width="11.00" height="21" fill="#00FFF0"/>
<rect x="326.90" y="606" width="11.00" height="21" fill="#00FFE0"/>
<rect x="337.60" y="606" width="11.00" height="21" fill="#00FFD0"/>
<rect x="348.30" y="606" width="11.00" height="21" fill="#00FFC0"/>
<rect x="359.00" y="606" width="11.00" height="21" fill="#00FFA0"/>
<rect x="369.70" y="606" width="11.00" height="21" fill="#00FF80"/>
<rect x="380.40" y="606" width="11.00" height="21" fill="#00FF50"/>
<rect x="391.10" y="606" width="11.00" height="21" fill="#00FF00"/>
<rect x="401.80" y="606" width="11.00" height="21" fill="#50FF00"/>
<rect x="412.50" y="606" width="11.00" height="21" fill="#80FF00"/>
<rect x="423.20" y="606" width="11.00" height="21" fill="#A0FF00"/>
<rect x="433.90" y="606" width="11.00" height="21" fill="#B8FF00"/>
<rect x="444.60" y="606" width="11.00" height="21" fill="#C8FF00"/>
<rect x="455.30" y="606" width="11.00" height="21" fill="#D8FF00"/>
<rect x="466.00" y="606" width="11.00" height="21" fill="#E8FF00"/>
<rect x="476.70" y="606" width="11.00" height="21" fill="#FFFF00"/>
<rect x="487.40" y="606" width="11.00" height="21" fill="#FFF000"/>
<rect x="498.10" y="606" width="11.00" height="21" fill="#FFE000"/>
<rect x="508.80" y="606" width="11.00" height="21" fill="#FFD000"/>
<rect x="519.50" y="606" width="11.00" height="21" fill="#FFC400"/>
<rect x="530.20" y="606" width="11.00" height="21" fill="#FFB400"/>
<rect x="540.90" y="606" width="11.00" height="21" fill="#FFA400"/>
<rect x="551.60" y="606" width="11.00" height="21" fill="#FF9000"/>
<rect x="562.30" y="606" width="11.00" height="21" fill="#FF7800"/>
<rect x="573.00" y="606" width="11.00" height="21" fill="#FF5800"/>
<rect x="583.70" y="606" width="11.00" height="21" fill="#FF2000"/>
<rect x="594.40" y="606" width="11.00" height="21" fill="#FF0030"/>
<rect x="605.10" y="606" width="11.00" height="21" fill="#FF0058"/>
<rect x="615.80" y="606" width="11.00" height="21" fill="#FF0070"/>
<rect x="626.50" y="606" width="11.00" height="21" fill="#FF0080"/>
<rect x="637.20" y="606" width="11.00" height="21" fill="#FF0088"/>
<rect x="647.90" y="606" width="11.00" height="21" fill="#FF0090"/>
<rect x="658.60" y="606" width="11.00" height="21" fill="#FF0098"/>
<rect x="669.30" y="606" width="11.00" height="21" fill="#F000B0"/>
<rect x="680.00" y="606" width="11.00" height="21" fill="#D800A8"/>
<rect x="690.70" y="606" width="11.00" height="21" fill="#C4009C"/>
<rect x="701.40" y="606" width="11.00" height="21" fill="#B00090"/>
<rect x="712.10" y="606" width="11.00" height="21" fill="#9C0084"/>
<rect x="722.80" y="606" width="11.00" height="21" fill="#800070"/>
<rect x="733.50" y="606" width="11.00" height="21" fill="#600058"/>
<rect x="37" y="605" width="708" height="2" fill="#000"/>
<rect x="37" y="626" width="708" height="2" fill="#000"/>
<rect x="37.0" y="605" width="2" height="23" fill="#000"/>
<rect x="101.2" y="605" width="2" height="23" fill="#000"/>
<rect x="165.4" y="605" width="2" height="23" fill="#000"/>
<rect x="229.6" y="605" width="2" height="23" fill="#000"/>
<rect x="293.8" y="605" width="2" height="23" fill="#000"/>
<rect x="358.0" y="605" width="2" height="23" fill="#000"/>
<rect x="422.2" y="605" width="2" height="23" fill="#000"/>
<rect x="486.4" y="605" width="2" height="23" fill="#000"/>
<rect x="550.6" y="605" width="2" height="23" fill="#000"/>
<rect x="614.8" y="605" width="2" height="23" fill="#000"/>
<rect x="679.0" y="605" width="2" height="23" fill="#000"/>
<rect x="743.2" y="605" width="2" height="23" fill="#000"/>
</g>
<g filter="url(#thr)">
<g id="header">
<text class="b" x="13" y="22.7" font-size="17.8" textLength="614" lengthAdjust="spacingAndGlyphs">NO2 source contributions in nested domain for gosan_201111</text>
<text x="20" y="49.3" font-size="16.8" textLength="353.5" lengthAdjust="spacingAndGlyphs">Start time of sampling 20111129.120000</text>
<text x="401.5" y="49.3" font-size="16.8" textLength="346" lengthAdjust="spacingAndGlyphs">End time of sampling 20111129.150000</text>
<text x="106" y="75" font-size="16.8" textLength="182" lengthAdjust="spacingAndGlyphs">Lower release height</text>
<text x="304.5" y="75" font-size="16.8" textLength="42.5" lengthAdjust="spacingAndGlyphs">82 m</text>
<text x="403" y="75" font-size="16.8" textLength="181" lengthAdjust="spacingAndGlyphs">Upper release height</text>
<text x="601" y="75" font-size="16.8" textLength="43" lengthAdjust="spacingAndGlyphs">62 m</text>
<text x="128" y="101" font-size="16.8" textLength="511" lengthAdjust="spacingAndGlyphs">Passive tracer used, meteorological data are from ECMWF</text>
</g>
<g id="cbarlabels" class="b" font-size="17.6">
<text x="6.5" y="645.3" textLength="36.5" lengthAdjust="spacingAndGlyphs">0.00</text>
<text x="85.5" y="645.3" textLength="36" lengthAdjust="spacingAndGlyphs">0.0<tspan class="n">1</tspan></text>
<text x="150.3" y="645.3" textLength="36.5" lengthAdjust="spacingAndGlyphs">0.02</text>
<text x="214.3" y="645.3" textLength="36.5" lengthAdjust="spacingAndGlyphs">0.04</text>
<text x="278.5" y="645.3" textLength="36.5" lengthAdjust="spacingAndGlyphs">0.08</text>
<text x="342.7" y="645.3" textLength="36.5" lengthAdjust="spacingAndGlyphs">0.<tspan class="n">1</tspan>6</text>
<text x="407" y="645.3" textLength="36" lengthAdjust="spacingAndGlyphs">0.3<tspan class="n">1</tspan></text>
<text x="471" y="645.3" textLength="36.5" lengthAdjust="spacingAndGlyphs">0.63</text>
<text x="537.5" y="645.3" textLength="36.5" lengthAdjust="spacingAndGlyphs"><tspan class="n">1</tspan>.25</text>
<text x="599.7" y="645.3" textLength="36.5" lengthAdjust="spacingAndGlyphs">2.50</text>
<text x="664" y="645.3" textLength="36.5" lengthAdjust="spacingAndGlyphs">5.00</text>
<text x="712" y="645.3" textLength="47.5" lengthAdjust="spacingAndGlyphs"><tspan class="n">1</tspan>0.00</text>
</g>
<g id="footer">
<text x="306" y="673" font-size="17.6" textLength="155.5" lengthAdjust="spacingAndGlyphs">10E-10 ppbv / m2</text>
<text x="65.5" y="703" font-size="17.8" textLength="136.5" lengthAdjust="spacingAndGlyphs">Maximum value</text>
<text x="212.5" y="703" font-size="17.8" textLength="183" lengthAdjust="spacingAndGlyphs">0.266E-09 ppbv / m2</text>
<text x="433.5" y="703" font-size="17.8" textLength="149.5" lengthAdjust="spacingAndGlyphs">Total mixing ratio</text>
<text x="626.5" y="703" font-size="17.8" textLength="75" lengthAdjust="spacingAndGlyphs">4.9 ppbv</text>
<g font-size="15" style="stroke-width:0.45px">
<text x="80.5" y="724.7" textLength="70.5" lengthAdjust="spacingAndGlyphs">American</text>
<text x="191" y="724.7" textLength="65.5" lengthAdjust="spacingAndGlyphs">0.0 ppbv</text>
<text x="309.5" y="724.7" textLength="73.5" lengthAdjust="spacingAndGlyphs">European</text>
<text x="420" y="724.7" textLength="64.5" lengthAdjust="spacingAndGlyphs">0.0 ppbv</text>
<text x="539" y="724.7" textLength="44" lengthAdjust="spacingAndGlyphs">Asian</text>
<text x="621" y="724.7" textLength="65.5" lengthAdjust="spacingAndGlyphs">4.9 ppbv</text>
<text x="49.5" y="748" textLength="121.5" lengthAdjust="spacingAndGlyphs">South American</text>
<text x="209.5" y="748" textLength="66" lengthAdjust="spacingAndGlyphs">0.0 ppbv</text>
<text x="326.5" y="748" textLength="54" lengthAdjust="spacingAndGlyphs">African</text>
<text x="418.7" y="748" textLength="64.5" lengthAdjust="spacingAndGlyphs">0.0 ppbv</text>
<text x="537.8" y="748" textLength="74.5" lengthAdjust="spacingAndGlyphs">Australian</text>
<text x="651.5" y="748" textLength="65" lengthAdjust="spacingAndGlyphs">0.0 ppbv</text>
</g>
</g>
<g id="maplabels" class="b" font-size="19.4" clip-path="url(#mapclip)">
<text x="114.8" y="210.5">8</text>
<text x="236.6" y="249.8">7</text>
<text x="363.3" y="295.2">6</text>
<text x="490.5" y="357.2">5</text>
<text x="475.5" y="373" class="n" clip-path="url(#c1)">1</text>
<text x="488.6" y="386.2">2</text>
<text x="530.8" y="407.5">3</text>
<text x="554.3" y="400.9">4</text>
</g>
<g id="star" stroke="#000" stroke-width="1" shape-rendering="crispEdges">
<line x1="456" y1="373.5" x2="480" y2="373.5"/>
<line x1="468.5" y1="361" x2="468.5" y2="385"/>
<line x1="456.5" y1="361.5" x2="480" y2="385"/>
<line x1="456.5" y1="385" x2="481" y2="360.5"/>
</g>

</g>
</svg>
</body>
</html>
